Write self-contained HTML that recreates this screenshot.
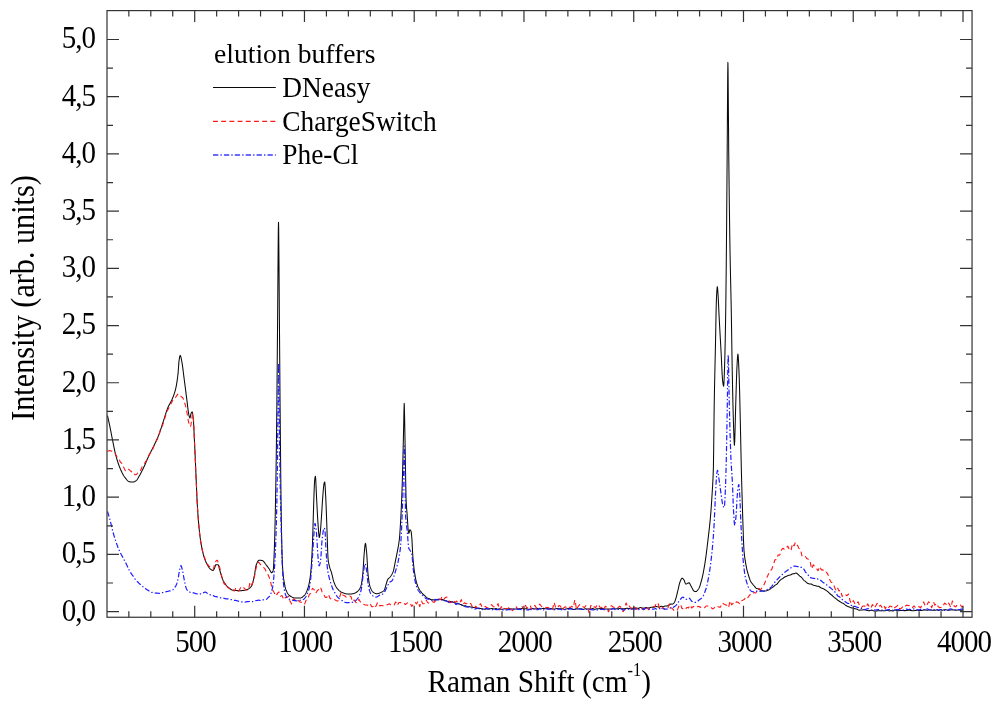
<!DOCTYPE html>
<html lang="en">
<head>
<meta charset="utf-8">
<title>Raman spectra of elution buffers</title>
<style>
html,body{margin:0;padding:0;background:#ffffff;}
body{width:1000px;height:708px;overflow:hidden;}
svg{display:block;will-change:transform;transform:translateZ(0);}
text{font-family:'Liberation Serif','Times New Roman',Times,serif;fill:#000000;}
</style>
</head>
<body>
<svg width="1000" height="708" viewBox="0 0 1000 708">
<rect x="0" y="0" width="1000" height="708" fill="#ffffff"/>
<g fill="none" stroke-linejoin="round" stroke-linecap="butt">
<path d="M107.50,415.70 L107.85,417.22 L108.20,418.76 L108.55,420.34 L108.90,421.94 L109.25,423.57 L109.60,425.22 L109.95,426.89 L110.20,428.10 L110.30,428.59 L110.65,430.35 L111.00,432.16 L111.35,434.00 L111.70,435.84 L112.05,437.64 L112.40,439.40 L112.40,439.40 L112.75,441.13 L113.10,442.89 L113.45,444.65 L113.80,446.39 L114.15,448.11 L114.50,449.78 L114.85,451.39 L115.20,452.92 L115.55,454.35 L115.80,455.30 L115.90,455.67 L116.25,456.93 L116.60,458.16 L116.95,459.34 L117.30,460.49 L117.65,461.61 L118.00,462.68 L118.35,463.72 L118.70,464.72 L119.05,465.68 L119.40,466.60 L119.75,467.49 L120.10,468.33 L120.30,468.80 L120.45,469.14 L120.80,469.94 L121.15,470.71 L121.50,471.47 L121.85,472.20 L122.20,472.92 L122.55,473.60 L122.90,474.26 L123.25,474.89 L123.60,475.49 L123.95,476.05 L124.30,476.58 L124.65,477.07 L124.90,477.40 L125.00,477.53 L125.35,477.97 L125.70,478.42 L126.05,478.86 L126.40,479.29 L126.75,479.70 L127.10,480.09 L127.45,480.46 L127.80,480.78 L128.15,481.07 L128.50,481.32 L128.85,481.51 L129.20,481.65 L129.40,481.70 L129.55,481.73 L129.90,481.80 L130.25,481.86 L130.60,481.92 L130.95,481.97 L131.30,482.01 L131.65,482.05 L132.00,482.07 L132.35,482.09 L132.70,482.10 L132.80,482.10 L133.05,482.09 L133.40,482.04 L133.75,481.95 L134.10,481.82 L134.45,481.67 L134.80,481.49 L135.15,481.28 L135.50,481.07 L135.85,480.84 L136.20,480.60 L136.20,480.60 L136.55,480.31 L136.90,479.92 L137.25,479.46 L137.60,478.93 L137.95,478.35 L138.30,477.74 L138.65,477.11 L139.00,476.48 L139.35,475.86 L139.50,475.60 L139.70,475.26 L140.05,474.64 L140.40,474.01 L140.75,473.36 L141.10,472.70 L141.45,472.02 L141.80,471.33 L142.15,470.63 L142.50,469.92 L142.85,469.21 L143.20,468.48 L143.55,467.75 L143.90,467.02 L144.10,466.60 L144.25,466.28 L144.60,465.53 L144.95,464.75 L145.30,463.96 L145.65,463.15 L146.00,462.34 L146.35,461.52 L146.70,460.70 L147.05,459.89 L147.40,459.08 L147.75,458.28 L148.10,457.49 L148.45,456.72 L148.60,456.40 L148.80,455.97 L149.15,455.24 L149.50,454.52 L149.85,453.81 L150.20,453.10 L150.55,452.41 L150.90,451.72 L151.25,451.03 L151.60,450.34 L151.95,449.65 L152.30,448.96 L152.65,448.27 L153.00,447.57 L153.35,446.86 L153.70,446.14 L154.05,445.42 L154.20,445.10 L154.40,444.68 L154.75,443.94 L155.10,443.21 L155.45,442.48 L155.80,441.74 L156.15,441.00 L156.50,440.25 L156.85,439.49 L157.20,438.71 L157.55,437.92 L157.90,437.10 L158.25,436.27 L158.60,435.41 L158.80,434.90 L158.95,434.51 L159.30,433.58 L159.65,432.60 L160.00,431.59 L160.35,430.55 L160.70,429.49 L161.05,428.41 L161.40,427.31 L161.75,426.21 L162.10,425.11 L162.45,424.01 L162.80,422.93 L163.15,421.85 L163.30,421.40 L163.50,420.79 L163.85,419.71 L164.20,418.60 L164.55,417.48 L164.90,416.35 L165.25,415.22 L165.60,414.10 L165.95,413.00 L166.30,411.93 L166.65,410.89 L167.00,409.89 L167.35,408.94 L167.70,408.04 L167.80,407.80 L168.05,407.21 L168.40,406.45 L168.75,405.73 L169.10,405.05 L169.45,404.39 L169.80,403.76 L170.15,403.13 L170.50,402.50 L170.85,401.85 L171.20,401.18 L171.55,400.48 L171.90,399.73 L172.25,398.92 L172.30,398.80 L172.60,398.07 L172.95,397.21 L173.30,396.33 L173.65,395.41 L174.00,394.45 L174.35,393.42 L174.70,392.31 L175.05,391.11 L175.40,389.81 L175.70,388.60 L175.75,388.39 L176.10,386.78 L176.45,384.95 L176.80,382.88 L177.15,380.57 L177.50,378.01 L177.85,375.19 L178.00,373.90 L178.20,371.74 L178.55,366.80 L178.90,362.10 L179.10,360.30 L179.25,359.32 L179.60,357.21 L179.95,355.76 L180.20,355.40 L180.30,355.44 L180.65,356.13 L181.00,357.46 L181.35,359.18 L181.70,361.00 L181.80,361.50 L182.05,362.85 L182.40,365.09 L182.75,367.64 L183.10,370.39 L183.45,373.24 L183.80,376.07 L184.10,378.40 L184.15,378.78 L184.50,381.45 L184.85,384.17 L185.20,386.91 L185.55,389.66 L185.90,392.42 L186.25,395.17 L186.60,397.91 L186.95,400.62 L187.00,401.00 L187.30,403.43 L187.65,406.44 L188.00,409.39 L188.35,412.05 L188.70,414.14 L188.80,414.60 L189.05,415.68 L189.40,417.06 L189.75,417.90 L189.90,418.00 L190.10,417.71 L190.45,416.26 L190.80,414.46 L191.10,413.40 L191.15,413.30 L191.50,412.63 L191.85,412.11 L192.20,411.90 L192.20,411.90 L192.55,412.88 L192.90,415.21 L193.10,416.80 L193.25,418.27 L193.60,423.44 L193.95,430.21 L194.30,437.60 L194.50,441.70 L194.65,444.76 L195.00,452.40 L195.35,460.49 L195.70,468.70 L196.00,475.60 L196.05,476.74 L196.40,485.05 L196.75,493.35 L197.10,500.77 L197.20,502.60 L197.45,506.86 L197.80,512.38 L198.15,517.38 L198.50,521.83 L198.80,525.20 L198.85,525.72 L199.20,529.25 L199.55,532.52 L199.90,535.53 L200.25,538.28 L200.60,540.77 L200.95,543.00 L201.00,543.30 L201.30,545.03 L201.65,546.94 L202.00,548.73 L202.35,550.40 L202.70,551.97 L203.05,553.42 L203.40,554.76 L203.75,555.99 L204.00,556.80 L204.10,557.11 L204.45,558.16 L204.80,559.16 L205.15,560.09 L205.50,560.97 L205.85,561.80 L206.20,562.57 L206.55,563.30 L206.90,563.98 L207.25,564.61 L207.30,564.70 L207.60,565.22 L207.95,565.81 L208.30,566.38 L208.65,566.93 L209.00,567.44 L209.35,567.92 L209.70,568.36 L210.05,568.74 L210.40,569.07 L210.70,569.30 L210.75,569.33 L211.10,569.58 L211.45,569.81 L211.80,570.02 L212.15,570.20 L212.50,570.32 L212.85,570.39 L213.00,570.40 L213.20,570.34 L213.55,570.00 L213.90,569.45 L214.25,568.78 L214.60,568.10 L214.60,568.10 L214.95,567.14 L215.30,565.92 L215.65,564.96 L215.90,564.70 L216.00,564.70 L216.35,564.70 L216.70,564.70 L217.05,564.70 L217.40,564.70 L217.75,564.70 L218.00,564.70 L218.10,564.73 L218.45,565.33 L218.80,566.47 L219.15,567.89 L219.50,569.33 L219.80,570.40 L219.85,570.56 L220.20,571.67 L220.55,572.83 L220.90,574.00 L221.25,575.17 L221.60,576.31 L221.95,577.40 L222.30,578.43 L222.65,579.37 L223.00,580.19 L223.20,580.60 L223.35,580.89 L223.70,581.54 L224.05,582.16 L224.40,582.76 L224.75,583.32 L225.10,583.85 L225.45,584.36 L225.80,584.83 L226.15,585.28 L226.50,585.70 L226.85,586.08 L227.20,586.44 L227.55,586.77 L227.70,586.90 L227.90,587.07 L228.25,587.37 L228.60,587.67 L228.95,587.96 L229.30,588.24 L229.65,588.51 L230.00,588.77 L230.35,589.02 L230.70,589.26 L231.05,589.47 L231.40,589.67 L231.75,589.84 L232.10,589.99 L232.45,590.12 L232.80,590.21 L233.15,590.28 L233.30,590.30 L233.50,590.32 L233.85,590.36 L234.20,590.39 L234.55,590.43 L234.90,590.46 L235.25,590.49 L235.60,590.52 L235.95,590.54 L236.30,590.57 L236.65,590.59 L237.00,590.61 L237.35,590.63 L237.70,590.65 L238.05,590.66 L238.40,590.67 L238.75,590.68 L239.10,590.69 L239.45,590.70 L239.80,590.70 L240.10,590.70 L240.15,590.70 L240.50,590.70 L240.85,590.68 L241.20,590.66 L241.55,590.64 L241.90,590.61 L242.25,590.57 L242.60,590.53 L242.95,590.48 L243.30,590.42 L243.65,590.36 L244.00,590.30 L244.35,590.23 L244.70,590.15 L245.05,590.07 L245.40,589.99 L245.75,589.91 L246.10,589.82 L246.45,589.72 L246.80,589.63 L246.90,589.60 L247.15,589.52 L247.50,589.40 L247.85,589.25 L248.20,589.08 L248.55,588.88 L248.90,588.65 L249.25,588.40 L249.60,588.12 L249.95,587.81 L250.30,587.47 L250.65,587.10 L251.00,586.70 L251.35,586.26 L251.40,586.20 L251.70,585.71 L252.05,584.90 L252.40,583.88 L252.75,582.69 L253.10,581.37 L253.45,579.95 L253.80,578.47 L254.10,577.20 L254.15,576.98 L254.50,575.12 L254.85,572.87 L255.20,570.47 L255.55,568.17 L255.90,566.21 L256.25,564.83 L256.30,564.70 L256.60,563.96 L256.95,563.14 L257.30,562.39 L257.65,561.72 L258.00,561.15 L258.35,560.69 L258.70,560.38 L259.05,560.22 L259.20,560.20 L259.40,560.20 L259.75,560.22 L260.10,560.24 L260.45,560.28 L260.80,560.32 L261.15,560.38 L261.50,560.45 L261.85,560.52 L262.20,560.60 L262.55,560.69 L262.60,560.70 L262.90,560.82 L263.25,561.07 L263.60,561.40 L263.95,561.81 L264.30,562.28 L264.65,562.78 L265.00,563.29 L265.35,563.81 L265.70,564.30 L266.00,564.70 L266.05,564.76 L266.40,565.21 L266.75,565.66 L267.10,566.12 L267.45,566.58 L267.80,567.05 L268.15,567.53 L268.50,568.02 L268.85,568.51 L269.20,569.01 L269.40,569.30 L269.55,569.53 L269.90,570.18 L270.25,570.89 L270.60,571.59 L270.95,572.18 L271.30,572.58 L271.60,572.70 L271.65,572.70 L272.00,572.55 L272.35,572.18 L272.70,571.59 L273.05,570.80 L273.20,570.40 L273.40,569.06 L273.75,563.61 L274.10,555.56 L274.40,547.80 L274.45,546.46 L274.80,534.70 L275.15,519.69 L275.50,502.60 L275.50,502.60 L275.85,483.28 L276.20,460.55 L276.55,434.10 L276.60,430.00 L276.90,400.95 L277.25,360.55 L277.60,320.00 L277.60,320.00 L277.95,272.88 L278.30,230.85 L278.50,222.30 L278.65,227.14 L279.00,265.06 L279.35,314.00 L279.40,320.00 L279.70,357.06 L280.05,401.73 L280.30,430.00 L280.40,440.21 L280.75,475.14 L281.10,505.66 L281.40,525.20 L281.45,527.77 L281.80,544.33 L282.15,557.47 L282.50,565.90 L282.50,565.90 L282.85,570.94 L283.20,574.89 L283.55,577.99 L283.90,580.47 L284.10,581.70 L284.25,582.57 L284.60,584.45 L284.95,586.13 L285.30,587.61 L285.65,588.89 L286.00,589.95 L286.30,590.70 L286.35,590.81 L286.70,591.56 L287.05,592.26 L287.40,592.90 L287.75,593.48 L288.10,594.01 L288.45,594.49 L288.80,594.90 L289.15,595.26 L289.50,595.56 L289.70,595.70 L289.85,595.80 L290.20,596.03 L290.55,596.25 L290.90,596.46 L291.25,596.66 L291.60,596.86 L291.95,597.04 L292.30,597.21 L292.65,597.37 L293.00,597.51 L293.35,597.64 L293.70,597.74 L294.05,597.84 L294.40,597.91 L294.75,597.96 L295.10,597.99 L295.40,598.00 L295.45,598.00 L295.80,598.00 L296.15,598.00 L296.50,598.00 L296.85,598.00 L297.20,598.00 L297.55,598.00 L297.90,598.00 L298.25,598.00 L298.60,598.00 L298.95,598.00 L299.30,598.00 L299.65,598.00 L299.90,598.00 L300.00,598.00 L300.35,597.96 L300.70,597.89 L301.05,597.77 L301.40,597.62 L301.75,597.43 L302.10,597.22 L302.45,596.97 L302.80,596.71 L303.15,596.43 L303.50,596.13 L303.85,595.81 L304.20,595.49 L304.40,595.30 L304.55,595.15 L304.90,594.74 L305.25,594.25 L305.60,593.68 L305.95,593.03 L306.30,592.32 L306.65,591.53 L307.00,590.68 L307.35,589.76 L307.70,588.79 L307.80,588.50 L308.05,587.74 L308.40,586.54 L308.75,585.16 L309.10,583.59 L309.45,581.81 L309.80,579.78 L310.15,577.48 L310.50,574.90 L310.50,574.90 L310.85,571.59 L311.20,567.19 L311.55,561.85 L311.90,555.69 L312.25,548.83 L312.30,547.80 L312.60,540.15 L312.95,528.69 L313.30,516.34 L313.65,505.02 L313.70,503.60 L314.00,494.68 L314.35,485.12 L314.60,481.00 L314.70,480.06 L315.05,477.33 L315.40,476.20 L315.40,476.20 L315.75,479.67 L316.10,487.43 L316.45,495.54 L316.50,496.50 L316.80,502.21 L317.15,509.08 L317.50,515.63 L317.85,521.30 L317.90,522.00 L318.20,526.38 L318.55,531.49 L318.90,535.55 L319.25,537.47 L319.30,537.50 L319.60,536.82 L319.95,534.69 L320.30,531.77 L320.50,530.00 L320.65,528.48 L321.00,523.73 L321.35,518.43 L321.40,517.70 L321.70,513.17 L322.05,507.57 L322.40,502.07 L322.75,497.13 L322.80,496.50 L323.10,492.64 L323.45,488.30 L323.80,484.94 L324.00,483.80 L324.15,483.22 L324.50,482.20 L324.70,482.00 L324.85,482.53 L325.20,486.94 L325.55,493.62 L325.70,496.50 L325.90,500.65 L326.25,509.56 L326.60,519.31 L326.80,524.70 L326.95,528.88 L327.30,539.89 L327.65,550.46 L328.00,557.92 L328.10,559.10 L328.35,561.14 L328.70,563.27 L329.05,564.87 L329.30,565.90 L329.40,566.30 L329.75,567.56 L330.10,568.64 L330.45,569.62 L330.80,570.58 L331.15,571.58 L331.50,572.70 L331.50,572.70 L331.85,574.01 L332.20,575.46 L332.55,576.98 L332.90,578.48 L333.25,579.89 L333.60,581.11 L333.80,581.70 L333.95,582.10 L334.30,583.01 L334.65,583.86 L335.00,584.67 L335.35,585.43 L335.70,586.13 L336.05,586.78 L336.40,587.37 L336.75,587.90 L337.10,588.38 L337.20,588.50 L337.45,588.80 L337.80,589.20 L338.15,589.59 L338.50,589.95 L338.85,590.30 L339.20,590.63 L339.55,590.93 L339.90,591.21 L340.25,591.48 L340.60,591.71 L340.95,591.93 L341.30,592.12 L341.65,592.28 L341.70,592.30 L342.00,592.42 L342.35,592.57 L342.70,592.71 L343.05,592.85 L343.40,592.98 L343.75,593.11 L344.10,593.23 L344.45,593.35 L344.80,593.46 L345.15,593.57 L345.50,593.67 L345.85,593.76 L346.20,593.84 L346.55,593.91 L346.90,593.97 L347.25,594.02 L347.60,594.06 L347.95,594.08 L348.30,594.10 L348.50,594.10 L348.65,594.10 L349.00,594.09 L349.35,594.08 L349.70,594.07 L350.05,594.04 L350.40,594.02 L350.75,593.99 L351.10,593.95 L351.45,593.91 L351.80,593.87 L352.15,593.82 L352.50,593.77 L352.85,593.72 L353.00,593.70 L353.20,593.67 L353.55,593.59 L353.90,593.49 L354.25,593.36 L354.60,593.22 L354.95,593.06 L355.30,592.88 L355.65,592.68 L356.00,592.47 L356.35,592.24 L356.70,592.00 L357.05,591.74 L357.40,591.48 L357.50,591.40 L357.75,591.20 L358.10,590.88 L358.45,590.52 L358.80,590.12 L359.15,589.65 L359.50,589.12 L359.85,588.52 L360.20,587.84 L360.55,587.07 L360.90,586.20 L360.90,586.20 L361.25,584.97 L361.60,583.17 L361.95,580.91 L362.30,578.26 L362.65,575.34 L362.70,574.90 L363.00,571.55 L363.35,566.33 L363.70,560.61 L364.05,555.31 L364.30,552.30 L364.40,551.25 L364.75,547.41 L365.10,544.34 L365.40,543.30 L365.45,543.33 L365.80,544.75 L366.15,547.71 L366.50,551.29 L366.60,552.30 L366.85,555.38 L367.20,561.10 L367.55,567.30 L367.90,572.68 L368.10,574.90 L368.25,576.22 L368.60,579.08 L368.95,581.58 L369.30,583.68 L369.65,585.33 L369.90,586.20 L370.00,586.49 L370.35,587.46 L370.70,588.34 L371.05,589.14 L371.40,589.85 L371.75,590.48 L372.10,591.03 L372.45,591.50 L372.80,591.88 L373.15,592.19 L373.30,592.30 L373.50,592.43 L373.85,592.66 L374.20,592.87 L374.55,593.06 L374.90,593.24 L375.25,593.39 L375.60,593.52 L375.95,593.61 L376.30,593.67 L376.65,593.70 L376.70,593.70 L377.00,593.69 L377.35,593.66 L377.70,593.60 L378.05,593.52 L378.40,593.43 L378.75,593.32 L379.10,593.19 L379.45,593.06 L379.80,592.92 L380.15,592.77 L380.50,592.61 L380.85,592.46 L381.20,592.30 L381.20,592.30 L381.55,592.14 L381.90,591.98 L382.25,591.79 L382.60,591.59 L382.95,591.35 L383.30,591.08 L383.65,590.77 L384.00,590.41 L384.10,590.30 L384.35,589.92 L384.70,589.12 L385.05,588.09 L385.40,586.91 L385.75,585.67 L386.10,584.45 L386.40,583.50 L386.45,583.35 L386.80,582.19 L387.15,580.99 L387.50,579.93 L387.80,579.30 L387.85,579.22 L388.20,578.76 L388.55,578.40 L388.90,578.10 L389.25,577.83 L389.60,577.53 L389.95,577.18 L390.10,577.00 L390.30,576.75 L390.65,576.28 L391.00,575.80 L391.35,575.27 L391.70,574.70 L392.05,574.07 L392.40,573.38 L392.75,572.61 L393.10,571.76 L393.20,571.50 L393.45,570.73 L393.80,569.35 L394.15,567.70 L394.50,565.88 L394.85,563.98 L395.20,562.11 L395.50,560.60 L395.55,560.36 L395.90,558.70 L396.25,557.05 L396.60,555.38 L396.95,553.66 L397.30,551.84 L397.40,551.30 L397.65,549.97 L398.00,548.14 L398.35,546.26 L398.70,544.18 L399.05,541.77 L399.40,538.90 L399.40,538.90 L399.75,534.96 L400.10,529.83 L400.45,524.13 L400.50,523.30 L400.80,518.00 L401.15,511.02 L401.30,507.80 L401.50,503.32 L401.85,494.81 L402.20,485.00 L402.20,485.00 L402.55,472.89 L402.90,459.02 L403.00,455.00 L403.25,444.59 L403.60,429.33 L403.70,425.00 L403.95,411.51 L404.20,403.40 L404.30,404.55 L404.65,420.07 L404.80,428.00 L405.00,439.05 L405.35,461.23 L405.50,470.00 L405.70,481.58 L406.05,498.64 L406.10,500.00 L406.40,505.68 L406.75,510.16 L407.10,514.17 L407.20,515.50 L407.45,519.38 L407.80,525.17 L408.15,529.80 L408.30,531.00 L408.50,532.15 L408.85,533.38 L408.90,533.40 L409.20,532.47 L409.55,530.48 L409.80,529.80 L409.90,529.81 L410.25,530.00 L410.60,530.41 L410.95,531.00 L411.00,531.10 L411.30,532.58 L411.65,535.96 L411.90,538.90 L412.00,540.34 L412.35,547.59 L412.70,554.40 L412.70,554.40 L413.05,558.97 L413.40,562.94 L413.75,566.35 L414.10,569.26 L414.20,570.00 L414.45,571.77 L414.80,574.07 L415.15,576.17 L415.50,578.07 L415.85,579.77 L416.20,581.27 L416.50,582.40 L416.55,582.57 L416.90,583.73 L417.25,584.79 L417.60,585.75 L417.95,586.63 L418.30,587.42 L418.65,588.13 L418.90,588.60 L419.00,588.78 L419.35,589.38 L419.70,589.95 L420.05,590.49 L420.40,591.00 L420.75,591.48 L421.10,591.94 L421.45,592.38 L421.80,592.80 L422.15,593.20 L422.50,593.58 L422.85,593.95 L423.20,594.30 L423.50,594.60 L423.55,594.65 L423.90,594.99 L424.25,595.33 L424.60,595.66 L424.95,595.99 L425.30,596.31 L425.65,596.62 L426.00,596.91 L426.35,597.19 L426.70,597.45 L427.05,597.69 L427.40,597.91 L427.75,598.11 L428.10,598.28 L428.40,598.40 L428.45,598.42 L428.80,598.55 L429.15,598.68 L429.50,598.80 L429.85,598.92 L430.20,599.38 L430.55,599.49 L430.90,599.59 L431.25,599.69 L431.60,599.74 L431.95,599.77 L432.30,599.79 L432.65,599.80 L433.00,599.80 L433.35,599.84 L433.70,599.96 L434.05,600.06 L434.20,600.09 L434.40,600.14 L434.75,600.22 L435.10,600.28 L435.45,600.14 L435.80,600.00 L436.15,599.84 L436.50,599.69 L436.85,599.53 L437.20,599.44 L437.55,599.41 L437.90,599.37 L438.25,599.34 L438.60,599.31 L438.95,599.30 L439.30,599.33 L439.65,599.38 L439.90,599.41 L440.00,599.43 L440.35,599.49 L440.70,599.57 L441.05,599.56 L441.40,599.52 L441.75,599.49 L442.10,599.46 L442.45,599.45 L442.80,599.51 L443.15,599.74 L443.50,599.98 L443.85,600.23 L444.20,600.47 L444.55,600.73 L444.90,600.78 L445.25,600.81 L445.60,600.84 L445.95,600.87 L446.30,600.89 L446.65,600.97 L447.00,601.13 L447.35,601.29 L447.70,601.44 L447.80,601.48 L448.05,601.58 L448.40,601.73 L448.75,601.68 L449.10,601.64 L449.45,601.59 L449.80,601.54 L450.15,601.50 L450.50,601.51 L450.85,601.58 L451.20,601.64 L451.55,601.71 L451.90,601.78 L452.25,601.85 L452.60,601.98 L452.95,602.10 L453.30,602.22 L453.65,602.35 L454.00,602.47 L454.35,602.60 L454.70,602.73 L455.05,602.86 L455.40,602.99 L455.75,603.12 L456.10,603.22 L456.45,603.24 L456.80,603.26 L456.80,603.26 L457.15,603.28 L457.50,603.31 L457.85,603.34 L458.20,603.49 L458.55,603.66 L458.90,603.83 L459.25,604.00 L459.60,604.18 L459.95,604.32 L460.30,604.42 L460.65,604.52 L461.00,604.61 L461.35,604.71 L461.70,604.81 L462.05,605.02 L462.40,605.24 L462.75,605.45 L463.10,605.66 L463.45,605.87 L463.80,605.95 L464.15,605.92 L464.50,605.89 L464.85,605.86 L465.20,605.82 L465.55,605.81 L465.90,606.00 L465.90,606.00 L466.25,606.19 L466.60,606.38 L466.95,606.56 L467.30,606.75 L467.65,606.79 L468.00,606.77 L468.35,606.75 L468.70,606.74 L469.05,606.72 L469.40,606.72 L469.75,606.78 L470.10,606.83 L470.45,606.89 L470.80,606.94 L471.15,606.99 L471.50,607.07 L471.85,607.15 L472.20,607.23 L472.55,607.31 L472.90,607.38 L473.25,607.43 L473.60,607.46 L473.95,607.48 L474.30,607.50 L474.65,607.52 L474.90,607.53 L475.00,607.53 L475.35,607.65 L475.70,607.77 L476.05,607.89 L476.40,608.00 L476.75,608.12 L477.10,608.22 L477.45,608.31 L477.80,608.40 L478.15,608.49 L478.50,608.58 L478.85,608.65 L479.20,608.63 L479.55,608.62 L479.90,608.60 L480.25,608.58 L480.60,608.56 L480.95,608.59 L481.30,608.65 L481.65,608.70 L482.00,608.75 L482.35,608.80 L482.70,608.86 L483.05,608.94 L483.40,609.02 L483.75,609.10 L484.10,609.18 L484.45,609.26 L484.80,609.21 L485.15,609.14 L485.50,609.07 L485.85,609.00 L486.20,608.93 L486.20,608.93 L486.55,608.89 L486.90,608.89 L487.25,608.90 L487.60,608.90 L487.95,608.90 L488.30,608.90 L488.65,608.88 L489.00,608.86 L489.35,608.84 L489.70,608.82 L490.05,608.80 L490.40,608.75 L490.75,608.67 L491.10,608.60 L491.45,608.53 L491.80,608.45 L492.15,608.41 L492.50,608.56 L492.85,608.70 L493.20,608.84 L493.55,608.99 L493.90,609.13 L494.25,609.07 L494.60,608.93 L494.95,608.78 L495.30,608.64 L495.65,608.49 L496.00,608.43 L496.35,608.58 L496.70,608.72 L497.05,608.87 L497.40,609.02 L497.75,609.16 L498.10,609.15 L498.45,609.11 L498.80,609.08 L499.15,609.04 L499.50,609.00 L499.85,609.01 L500.20,609.08 L500.55,609.15 L500.90,609.22 L501.25,609.29 L501.60,609.36 L501.95,609.29 L502.30,609.22 L502.65,609.15 L503.00,609.08 L503.35,609.01 L503.70,608.95 L504.05,608.91 L504.30,608.88 L504.40,608.86 L504.75,608.82 L505.10,608.77 L505.45,608.75 L505.80,608.82 L506.15,608.89 L506.50,608.95 L506.85,609.02 L507.20,609.09 L507.55,609.07 L507.90,609.02 L508.25,608.97 L508.60,608.91 L508.95,608.86 L509.30,608.82 L509.65,608.84 L510.00,608.87 L510.35,608.89 L510.70,608.91 L511.05,608.93 L511.40,608.95 L511.75,608.96 L512.10,608.97 L512.45,608.98 L512.80,608.99 L513.15,609.00 L513.50,608.99 L513.85,608.97 L514.20,608.96 L514.55,608.95 L514.90,608.94 L515.25,608.94 L515.60,608.93 L515.95,608.93 L516.30,608.92 L516.65,608.92 L517.00,608.90 L517.35,608.86 L517.70,608.82 L518.05,608.78 L518.40,608.74 L518.75,608.71 L519.10,608.75 L519.45,608.78 L519.80,608.82 L520.15,608.86 L520.50,608.89 L520.85,608.82 L521.20,608.71 L521.55,608.59 L521.90,608.47 L522.25,608.36 L522.60,608.31 L522.95,608.42 L523.30,608.54 L523.65,608.65 L524.00,608.77 L524.35,608.88 L524.70,608.85 L525.05,608.78 L525.40,608.72 L525.75,608.66 L526.10,608.60 L526.45,608.62 L526.80,608.75 L527.15,608.89 L527.50,609.02 L527.85,609.16 L528.20,609.30 L528.55,609.30 L528.90,609.31 L529.25,609.32 L529.60,609.33 L529.95,609.33 L530.30,609.23 L530.65,609.04 L531.00,608.84 L531.35,608.65 L531.70,608.46 L532.05,608.32 L532.40,608.44 L532.75,608.56 L533.10,608.68 L533.45,608.81 L533.80,608.93 L534.15,608.95 L534.50,608.93 L534.85,608.92 L535.20,608.90 L535.55,608.88 L535.90,608.85 L536.25,608.80 L536.60,608.74 L536.95,608.69 L537.30,608.63 L537.65,608.58 L538.00,608.65 L538.35,608.74 L538.70,608.83 L539.05,608.93 L539.40,609.02 L539.75,609.05 L540.00,609.00 L540.10,608.99 L540.45,608.93 L540.80,608.87 L541.15,608.81 L541.50,608.75 L541.85,608.67 L542.20,608.59 L542.55,608.52 L542.90,608.44 L543.25,608.36 L543.60,608.38 L543.95,608.47 L544.30,608.55 L544.65,608.64 L545.00,608.73 L545.35,608.81 L545.70,608.81 L546.05,608.82 L546.40,608.82 L546.75,608.83 L547.10,608.84 L547.45,608.85 L547.80,608.86 L548.15,608.88 L548.50,608.89 L548.85,608.91 L549.20,608.90 L549.55,608.82 L549.90,608.74 L550.25,608.66 L550.60,608.58 L550.95,608.50 L551.30,608.58 L551.65,608.69 L552.00,608.80 L552.35,608.90 L552.70,609.01 L553.05,609.08 L553.40,609.08 L553.75,609.09 L554.10,609.10 L554.45,609.10 L554.80,609.11 L555.15,609.00 L555.50,608.89 L555.85,608.78 L556.20,608.67 L556.55,608.55 L556.90,608.52 L557.25,608.55 L557.60,608.58 L557.95,608.61 L558.30,608.64 L558.65,608.67 L559.00,608.70 L559.35,608.73 L559.70,608.77 L560.05,608.80 L560.40,608.83 L560.75,608.82 L561.10,608.79 L561.45,608.76 L561.80,608.74 L562.15,608.71 L562.50,608.72 L562.85,608.86 L563.20,609.00 L563.55,609.13 L563.90,609.27 L564.25,609.40 L564.60,609.34 L564.95,609.25 L565.30,609.16 L565.65,609.07 L566.00,608.98 L566.35,608.90 L566.70,608.83 L567.05,608.75 L567.40,608.68 L567.75,608.61 L568.10,608.54 L568.45,608.55 L568.80,608.56 L569.15,608.58 L569.50,608.59 L569.85,608.60 L570.20,608.63 L570.55,608.67 L570.90,608.72 L571.25,608.76 L571.60,608.80 L571.95,608.86 L572.30,609.00 L572.65,609.13 L573.00,609.27 L573.35,609.41 L573.70,609.55 L574.05,609.48 L574.40,609.34 L574.75,609.19 L575.10,609.05 L575.45,608.90 L575.80,608.80 L576.15,608.82 L576.50,608.83 L576.85,608.85 L577.20,608.87 L577.55,608.89 L577.90,608.91 L578.25,608.93 L578.60,608.95 L578.95,608.98 L579.30,609.00 L579.65,609.00 L580.00,608.96 L580.35,608.93 L580.70,608.90 L581.05,608.86 L581.40,608.83 L581.75,608.97 L582.10,609.10 L582.45,609.24 L582.80,609.38 L583.15,609.51 L583.50,609.47 L583.85,609.31 L584.20,609.14 L584.55,608.98 L584.90,608.81 L585.25,608.68 L585.60,608.75 L585.95,608.83 L586.30,608.90 L586.65,608.98 L587.00,609.05 L587.35,609.05 L587.70,609.01 L588.05,608.98 L588.40,608.94 L588.75,608.91 L589.10,608.89 L589.45,608.91 L589.80,608.94 L590.15,608.97 L590.50,608.99 L590.85,609.02 L591.20,608.93 L591.55,608.83 L591.90,608.72 L592.25,608.61 L592.60,608.51 L592.95,608.52 L593.30,608.69 L593.65,608.86 L594.00,609.04 L594.35,609.21 L594.70,609.38 L595.05,609.27 L595.40,609.16 L595.75,609.04 L596.10,608.93 L596.45,608.82 L596.80,608.78 L597.15,608.78 L597.50,608.79 L597.85,608.80 L598.20,608.81 L598.55,608.81 L598.90,608.75 L599.25,608.69 L599.60,608.63 L599.95,608.57 L600.00,608.57 L600.30,608.52 L600.65,608.51 L601.00,608.52 L601.35,608.53 L601.70,608.54 L602.05,608.55 L602.40,608.58 L602.75,608.65 L603.10,608.73 L603.45,608.80 L603.80,608.87 L604.15,608.95 L604.50,608.98 L604.85,609.00 L605.20,609.02 L605.55,609.04 L605.90,609.06 L606.25,609.07 L606.60,609.05 L606.95,609.04 L607.30,609.02 L607.65,609.00 L608.00,608.98 L608.35,609.01 L608.70,609.03 L609.05,609.05 L609.40,609.07 L609.75,609.10 L610.10,609.09 L610.45,609.05 L610.80,609.02 L611.15,608.99 L611.50,608.95 L611.85,608.92 L612.20,608.87 L612.55,608.83 L612.90,608.78 L613.25,608.73 L613.60,608.69 L613.95,608.70 L614.30,608.75 L614.65,608.79 L615.00,608.83 L615.35,608.87 L615.70,608.90 L616.05,608.88 L616.40,608.85 L616.75,608.83 L617.10,608.81 L617.45,608.79 L617.80,608.75 L618.15,608.70 L618.50,608.65 L618.85,608.61 L619.20,608.56 L619.55,608.55 L619.90,608.59 L620.25,608.63 L620.60,608.67 L620.95,608.71 L621.30,608.75 L621.65,608.78 L622.00,608.80 L622.35,608.83 L622.70,608.85 L623.05,608.88 L623.40,608.85 L623.75,608.78 L624.10,608.71 L624.45,608.64 L624.80,608.57 L625.15,608.50 L625.50,608.46 L625.85,608.42 L626.20,608.37 L626.55,608.33 L626.90,608.28 L627.25,608.31 L627.60,608.36 L627.95,608.42 L628.30,608.47 L628.65,608.53 L629.00,608.58 L629.35,608.64 L629.70,608.70 L630.05,608.76 L630.40,608.82 L630.75,608.88 L631.10,608.78 L631.45,608.64 L631.80,608.51 L632.15,608.37 L632.50,608.24 L632.85,608.16 L633.20,608.16 L633.55,608.15 L633.90,608.15 L634.25,608.15 L634.60,608.14 L634.95,608.13 L635.30,608.12 L635.65,608.10 L636.00,608.09 L636.35,608.08 L636.70,608.11 L637.05,608.18 L637.40,608.25 L637.75,608.32 L638.10,608.38 L638.45,608.42 L638.80,608.22 L639.15,608.03 L639.50,607.84 L639.85,607.65 L640.00,607.57 L640.20,607.46 L640.55,607.49 L640.90,607.60 L641.25,607.72 L641.60,607.84 L641.95,607.95 L642.30,608.04 L642.65,608.08 L643.00,608.11 L643.35,608.14 L643.70,608.18 L644.05,608.21 L644.40,608.09 L644.75,607.96 L645.10,607.82 L645.45,607.68 L645.80,607.55 L646.15,607.52 L646.50,607.63 L646.85,607.75 L647.20,607.86 L647.55,607.98 L647.90,608.09 L648.25,608.01 L648.60,607.93 L648.95,607.85 L649.30,607.77 L649.65,607.69 L650.00,607.61 L650.35,607.52 L650.70,607.43 L651.05,607.34 L651.40,607.25 L651.75,607.17 L652.10,607.19 L652.45,607.21 L652.80,607.22 L653.15,607.24 L653.50,607.25 L653.85,607.16 L654.20,607.03 L654.55,606.90 L654.90,606.77 L655.25,606.63 L655.60,606.55 L655.95,606.57 L656.30,606.60 L656.65,606.62 L657.00,606.65 L657.35,606.67 L657.70,606.77 L658.05,606.87 L658.40,606.98 L658.75,607.09 L659.10,607.19 L659.45,607.17 L659.80,606.98 L660.00,606.86 L660.15,606.78 L660.50,606.58 L660.85,606.39 L661.20,606.19 L661.55,606.31 L661.90,606.44 L662.25,606.56 L662.60,606.68 L662.95,606.80 L663.30,606.76 L663.65,606.60 L664.00,606.44 L664.35,606.28 L664.70,606.12 L665.05,605.98 L665.40,605.99 L665.75,605.99 L666.10,606.00 L666.45,606.00 L666.80,606.00 L667.15,605.92 L667.50,605.79 L667.85,605.67 L668.20,605.54 L668.55,605.40 L668.90,605.25 L669.25,605.03 L669.60,604.81 L669.95,604.58 L670.00,604.55 L670.30,604.36 L670.65,604.12 L671.00,604.08 L671.35,604.05 L671.70,604.01 L672.05,604.30 L672.40,604.12 L672.75,603.93 L673.10,603.70 L673.45,603.45 L673.80,603.17 L674.00,603.00 L674.15,602.84 L674.50,602.25 L674.85,601.44 L675.20,600.47 L675.55,599.41 L675.90,598.31 L676.00,598.00 L676.25,597.18 L676.60,595.87 L676.95,594.44 L677.30,592.95 L677.65,591.45 L678.00,590.00 L678.00,590.00 L678.35,588.52 L678.70,586.95 L679.05,585.39 L679.40,583.94 L679.75,582.70 L680.00,582.00 L680.10,581.76 L680.45,580.90 L680.80,580.07 L681.15,579.33 L681.50,578.74 L681.85,578.34 L682.20,578.20 L682.20,578.20 L682.55,578.30 L682.90,578.58 L683.25,578.97 L683.60,579.44 L683.95,579.93 L684.00,580.00 L684.30,580.58 L684.65,581.55 L685.00,582.60 L685.35,583.49 L685.70,583.97 L685.80,584.00 L686.05,583.98 L686.40,583.89 L686.75,583.75 L687.10,583.57 L687.45,583.37 L687.80,583.18 L688.15,583.01 L688.50,582.88 L688.85,582.81 L689.00,582.80 L689.20,582.86 L689.55,583.21 L689.90,583.80 L690.25,584.51 L690.60,585.25 L690.95,585.92 L691.00,586.00 L691.30,586.52 L691.65,587.19 L692.00,587.89 L692.35,588.60 L692.70,589.28 L693.05,589.89 L693.40,590.42 L693.75,590.81 L694.00,591.00 L694.10,591.06 L694.45,591.25 L694.80,591.42 L695.15,591.54 L695.50,591.60 L695.60,591.60 L695.85,591.57 L696.20,591.45 L696.55,591.23 L696.90,590.94 L697.25,590.58 L697.60,590.18 L697.95,589.74 L698.30,589.27 L698.50,589.00 L698.65,588.78 L699.00,588.15 L699.35,587.37 L699.70,586.46 L700.05,585.44 L700.40,584.33 L700.75,583.15 L701.10,581.93 L701.45,580.68 L701.50,580.50 L701.80,579.38 L702.15,577.96 L702.50,576.42 L702.85,574.79 L703.20,573.05 L703.55,571.23 L703.90,569.33 L704.25,567.35 L704.60,565.30 L704.90,563.50 L704.95,563.19 L705.30,560.95 L705.65,558.55 L706.00,556.00 L706.35,553.33 L706.70,550.55 L707.05,547.70 L707.40,544.78 L707.75,541.83 L708.10,538.85 L708.20,538.00 L708.45,535.88 L708.80,532.90 L709.15,529.86 L709.50,526.71 L709.85,523.37 L710.20,519.80 L710.50,516.50 L710.55,515.93 L710.90,511.66 L711.25,506.98 L711.60,501.88 L711.95,496.38 L712.10,493.90 L712.30,490.70 L712.65,485.19 L713.00,478.50 L713.35,469.14 L713.40,467.50 L713.70,448.14 L714.05,416.33 L714.20,405.40 L714.40,394.04 L714.75,376.81 L715.10,361.29 L715.45,345.57 L715.50,343.20 L715.80,327.12 L716.15,308.69 L716.40,300.00 L716.50,297.76 L716.85,290.81 L717.20,286.93 L717.30,286.70 L717.55,287.88 L717.90,292.30 L718.20,297.00 L718.25,297.81 L718.60,305.36 L718.90,312.20 L718.95,313.20 L719.30,320.01 L719.65,326.51 L720.00,332.81 L720.35,339.01 L720.70,345.23 L721.05,351.58 L721.10,352.50 L721.40,358.57 L721.75,366.25 L722.10,373.45 L722.45,378.96 L722.60,380.50 L722.80,382.15 L723.15,384.64 L723.50,386.02 L723.60,386.10 L723.85,384.37 L724.20,377.28 L724.55,366.91 L724.80,358.80 L724.90,355.31 L725.25,339.32 L725.60,318.71 L725.70,312.20 L725.95,293.17 L726.30,260.24 L726.40,250.00 L726.65,221.30 L727.00,175.81 L727.20,150.00 L727.35,128.07 L727.70,74.66 L727.90,62.40 L728.05,68.39 L728.40,111.54 L728.70,150.00 L728.75,154.56 L729.10,185.12 L729.45,212.95 L729.80,237.57 L730.00,250.00 L730.15,258.39 L730.50,275.26 L730.85,290.55 L731.20,306.94 L731.30,312.20 L731.55,327.20 L731.90,350.46 L732.25,371.72 L732.30,374.30 L732.60,388.83 L732.95,404.29 L733.30,417.59 L733.50,424.00 L733.65,428.66 L734.00,439.29 L734.35,445.09 L734.40,445.20 L734.70,441.46 L735.05,430.31 L735.40,416.26 L735.70,405.40 L735.75,403.83 L736.10,391.94 L736.45,380.00 L736.80,370.20 L736.90,368.10 L737.15,363.23 L737.50,357.20 L737.85,354.16 L737.90,354.10 L738.20,355.94 L738.55,361.67 L738.90,369.54 L739.10,374.30 L739.25,378.30 L739.60,390.66 L739.95,405.56 L740.30,420.90 L740.30,420.90 L740.65,437.03 L741.00,454.06 L741.30,467.50 L741.35,469.54 L741.70,482.86 L741.90,490.00 L742.05,495.27 L742.40,507.14 L742.70,516.50 L742.75,517.99 L743.10,528.83 L743.45,539.19 L743.80,547.37 L744.00,550.40 L744.15,552.06 L744.50,555.50 L744.85,558.40 L745.20,560.14 L745.55,562.47 L745.90,564.54 L746.25,566.43 L746.60,568.24 L746.70,568.75 L746.95,569.80 L747.30,571.19 L747.65,572.50 L748.00,573.72 L748.35,574.86 L748.70,575.97 L749.05,577.14 L749.40,578.23 L749.75,579.23 L750.10,580.13 L750.10,580.13 L750.45,580.98 L750.80,581.58 L751.15,582.12 L751.50,582.62 L751.85,583.09 L752.20,583.53 L752.55,583.97 L752.90,584.43 L753.25,584.86 L753.60,585.26 L753.95,585.62 L754.30,585.94 L754.60,586.36 L754.65,586.43 L755.00,586.89 L755.35,587.34 L755.70,587.77 L756.05,588.20 L756.40,588.43 L756.75,588.51 L757.10,588.59 L757.45,588.65 L757.80,588.70 L758.15,588.77 L758.50,589.03 L758.85,589.27 L759.20,589.50 L759.55,589.73 L759.90,589.94 L760.20,590.11 L760.25,590.13 L760.60,590.33 L760.95,590.52 L761.30,590.72 L761.65,590.91 L762.00,591.05 L762.35,591.08 L762.70,591.09 L763.05,591.10 L763.40,591.10 L763.75,591.08 L764.10,591.10 L764.45,591.11 L764.70,591.11 L764.80,591.10 L765.15,591.07 L765.50,591.01 L765.85,590.94 L766.20,590.85 L766.55,590.75 L766.90,590.63 L767.25,590.49 L767.60,590.34 L767.95,590.21 L768.30,590.08 L768.65,589.93 L769.00,589.78 L769.35,589.63 L769.70,589.40 L770.05,589.11 L770.40,588.82 L770.40,588.82 L770.75,588.52 L771.10,588.21 L771.45,587.91 L771.80,587.74 L772.15,587.56 L772.50,587.37 L772.85,587.16 L773.20,586.95 L773.55,586.67 L773.90,586.35 L774.25,586.03 L774.60,585.71 L774.95,585.39 L775.30,585.10 L775.65,584.88 L776.00,584.67 L776.35,584.46 L776.70,584.25 L777.05,584.06 L777.20,583.90 L777.40,583.64 L777.75,583.19 L778.10,582.72 L778.45,582.25 L778.80,581.77 L779.15,581.34 L779.50,580.99 L779.85,580.63 L780.20,580.27 L780.55,579.92 L780.90,579.57 L781.25,579.35 L781.60,579.15 L781.95,578.95 L782.30,578.77 L782.65,578.59 L783.00,578.34 L783.35,578.03 L783.70,577.74 L784.00,577.51 L784.05,577.47 L784.40,577.20 L784.75,576.96 L785.10,576.81 L785.45,576.67 L785.80,576.53 L786.15,576.39 L786.50,576.26 L786.85,576.10 L787.20,575.94 L787.55,575.77 L787.90,575.62 L788.25,575.46 L788.60,575.34 L788.95,575.27 L789.30,575.21 L789.65,575.15 L790.00,575.10 L790.35,575.06 L790.70,574.88 L790.70,574.88 L791.05,574.68 L791.40,574.48 L791.75,574.27 L792.10,574.07 L792.45,573.94 L792.80,573.88 L793.15,573.84 L793.50,573.80 L793.85,573.77 L794.20,573.75 L794.55,573.56 L794.90,573.39 L795.25,573.24 L795.30,573.21 L795.60,573.10 L795.95,573.01 L796.30,573.08 L796.65,573.29 L797.00,573.52 L797.35,573.77 L797.70,574.05 L798.05,574.34 L798.40,574.69 L798.75,575.05 L799.10,575.41 L799.45,575.78 L799.80,576.15 L799.80,576.15 L800.15,576.36 L800.50,576.55 L800.85,576.79 L801.20,577.08 L801.55,577.39 L801.90,577.76 L802.25,578.24 L802.60,578.72 L802.95,579.18 L803.30,579.62 L803.65,580.03 L804.00,580.37 L804.30,580.62 L804.35,580.66 L804.70,580.92 L805.05,581.17 L805.40,581.41 L805.75,581.70 L806.10,582.05 L806.45,582.38 L806.80,582.70 L807.15,583.01 L807.50,583.29 L807.70,583.37 L807.85,583.43 L808.20,583.55 L808.55,583.67 L808.90,583.77 L809.25,583.87 L809.60,583.93 L809.95,583.96 L810.30,583.99 L810.65,584.01 L811.00,584.03 L811.35,584.08 L811.70,584.28 L812.05,584.49 L812.40,584.70 L812.75,584.91 L813.10,585.12 L813.30,585.21 L813.45,585.24 L813.80,585.32 L814.15,585.40 L814.50,585.47 L814.85,585.54 L815.20,585.62 L815.55,585.75 L815.90,585.87 L816.25,585.99 L816.60,586.11 L816.95,586.23 L817.30,586.26 L817.65,586.27 L818.00,586.29 L818.35,586.32 L818.70,586.34 L819.05,586.47 L819.40,586.73 L819.75,587.00 L820.10,587.28 L820.10,587.28 L820.45,587.56 L820.80,587.86 L821.15,587.94 L821.50,588.04 L821.85,588.14 L822.20,588.26 L822.55,588.38 L822.90,588.54 L823.25,588.72 L823.60,588.91 L823.95,589.10 L824.30,589.30 L824.65,589.51 L825.00,589.72 L825.35,589.93 L825.70,590.15 L826.05,590.37 L826.40,590.59 L826.75,590.84 L826.90,590.95 L827.10,591.10 L827.45,591.37 L827.80,591.65 L828.15,591.94 L828.50,592.25 L828.85,592.60 L829.20,592.96 L829.55,593.32 L829.90,593.68 L830.25,594.05 L830.60,594.30 L830.95,594.54 L831.30,594.78 L831.65,595.01 L832.00,595.25 L832.35,595.54 L832.70,595.92 L833.05,596.28 L833.40,596.65 L833.70,596.95 L833.75,597.00 L834.10,597.36 L834.45,597.60 L834.80,597.84 L835.15,598.08 L835.50,598.31 L835.85,598.55 L836.20,598.82 L836.55,599.13 L836.90,599.44 L837.25,599.74 L837.60,600.05 L837.95,600.34 L838.20,600.50 L838.30,600.57 L838.65,600.80 L839.00,601.04 L839.35,601.27 L839.70,601.51 L840.05,601.74 L840.40,601.96 L840.75,602.17 L841.10,602.39 L841.45,602.60 L841.80,602.79 L842.15,602.94 L842.50,603.07 L842.85,603.20 L843.20,603.33 L843.55,603.44 L843.90,603.74 L844.00,603.84 L844.25,604.07 L844.60,604.40 L844.95,604.73 L845.30,605.05 L845.65,605.32 L846.00,605.54 L846.35,605.75 L846.70,605.96 L847.05,606.16 L847.40,606.36 L847.75,606.49 L848.10,606.61 L848.45,606.73 L848.80,606.85 L849.15,606.96 L849.50,607.09 L849.85,607.25 L850.20,607.40 L850.55,607.55 L850.80,607.65 L850.90,607.69 L851.25,607.82 L851.60,607.87 L851.95,607.93 L852.30,607.98 L852.65,608.04 L853.00,608.09 L853.35,608.19 L853.70,608.31 L854.05,608.42 L854.40,608.53 L854.75,608.64 L855.10,608.74 L855.45,608.81 L855.80,608.87 L856.15,608.93 L856.50,608.99 L856.85,609.05 L857.20,609.24 L857.55,609.46 L857.90,609.67 L858.25,609.87 L858.60,610.07 L858.95,610.18 L859.30,610.16 L859.65,610.14 L860.00,610.11 L860.35,610.07 L860.70,610.03 L861.00,610.02 L861.05,610.02 L861.40,610.00 L861.75,609.98 L862.10,609.96 L862.45,609.94 L862.80,609.91 L863.15,609.88 L863.50,609.85 L863.85,609.81 L864.20,609.78 L864.55,609.76 L864.90,609.85 L865.25,609.94 L865.60,610.02 L865.95,610.10 L866.30,610.19 L866.65,610.29 L867.00,610.40 L867.35,610.50 L867.70,610.61 L868.05,610.72 L868.40,610.78 L868.75,610.73 L869.10,610.69 L869.45,610.64 L869.80,610.59 L870.15,610.54 L870.50,610.49 L870.85,610.42 L871.20,610.36 L871.55,610.30 L871.90,610.24 L872.25,610.26 L872.60,610.40 L872.95,610.53 L873.30,610.66 L873.65,610.80 L874.00,610.93 L874.35,610.93 L874.70,610.94 L875.05,610.94 L875.40,610.94 L875.75,610.95 L876.10,610.94 L876.45,610.91 L876.80,610.89 L877.15,610.86 L877.50,610.84 L877.85,610.81 L878.00,610.81 L878.20,610.80 L878.55,610.79 L878.90,610.78 L879.25,610.77 L879.60,610.76 L879.95,610.77 L880.30,610.79 L880.65,610.81 L881.00,610.83 L881.35,610.85 L881.70,610.86 L882.05,610.82 L882.40,610.78 L882.75,610.75 L883.10,610.71 L883.45,610.67 L883.80,610.68 L884.15,610.69 L884.50,610.70 L884.85,610.72 L885.20,610.73 L885.55,610.70 L885.90,610.61 L886.25,610.51 L886.60,610.42 L886.95,610.33 L887.30,610.23 L887.65,610.37 L888.00,610.50 L888.35,610.63 L888.70,610.77 L889.05,610.90 L889.40,610.91 L889.75,610.84 L890.10,610.76 L890.45,610.69 L890.80,610.61 L891.15,610.56 L891.50,610.66 L891.85,610.77 L892.20,610.87 L892.55,610.98 L892.90,611.08 L893.25,610.94 L893.60,610.70 L893.95,610.45 L894.30,610.21 L894.65,609.97 L895.00,609.84 L895.35,610.00 L895.70,610.16 L896.05,610.32 L896.40,610.48 L896.75,610.64 L897.10,610.68 L897.45,610.69 L897.80,610.71 L898.15,610.72 L898.50,610.74 L898.85,610.71 L899.20,610.63 L899.55,610.55 L899.90,610.47 L900.25,610.39 L900.60,610.31 L900.95,610.36 L901.30,610.40 L901.65,610.44 L902.00,610.49 L902.35,610.53 L902.70,610.56 L903.05,610.58 L903.40,610.59 L903.75,610.61 L904.10,610.62 L904.45,610.63 L904.80,610.62 L905.15,610.61 L905.50,610.60 L905.85,610.59 L906.20,610.57 L906.55,610.52 L906.90,610.45 L907.25,610.39 L907.60,610.32 L907.95,610.25 L908.30,610.21 L908.65,610.23 L909.00,610.25 L909.35,610.27 L909.70,610.29 L910.05,610.31 L910.40,610.37 L910.75,610.44 L911.10,610.50 L911.45,610.57 L911.80,610.64 L912.15,610.68 L912.50,610.69 L912.85,610.71 L913.20,610.72 L913.55,610.73 L913.90,610.75 L914.25,610.67 L914.60,610.60 L914.95,610.53 L915.30,610.46 L915.65,610.39 L916.00,610.35 L916.35,610.35 L916.70,610.35 L917.05,610.34 L917.40,610.34 L917.75,610.34 L918.10,610.34 L918.45,610.35 L918.80,610.35 L919.15,610.36 L919.50,610.36 L919.85,610.40 L920.00,610.42 L920.20,610.45 L920.55,610.49 L920.90,610.54 L921.25,610.59 L921.60,610.59 L921.95,610.46 L922.30,610.34 L922.65,610.21 L923.00,610.09 L923.35,609.96 L923.70,609.93 L924.05,609.91 L924.40,609.89 L924.75,609.87 L925.10,609.85 L925.45,609.88 L925.80,609.96 L926.15,610.05 L926.50,610.13 L926.85,610.21 L927.20,610.30 L927.55,610.22 L927.90,610.15 L928.25,610.07 L928.60,610.00 L928.95,609.92 L929.30,609.91 L929.65,609.94 L930.00,609.96 L930.35,609.99 L930.70,610.02 L931.05,610.05 L931.40,610.09 L931.75,610.13 L932.10,610.16 L932.45,610.20 L932.80,610.24 L933.15,610.26 L933.50,610.29 L933.85,610.31 L934.20,610.33 L934.55,610.35 L934.90,610.34 L935.25,610.24 L935.60,610.15 L935.95,610.05 L936.30,609.96 L936.65,609.87 L937.00,609.95 L937.35,610.05 L937.70,610.16 L938.05,610.27 L938.40,610.38 L938.75,610.37 L939.10,610.22 L939.45,610.07 L939.80,609.91 L940.15,609.76 L940.50,609.60 L940.85,609.74 L941.20,609.87 L941.55,610.01 L941.90,610.14 L942.25,610.27 L942.60,610.26 L942.95,610.13 L943.30,610.00 L943.65,609.88 L944.00,609.75 L944.35,609.64 L944.70,609.66 L945.05,609.67 L945.40,609.69 L945.75,609.70 L946.10,609.72 L946.45,609.80 L946.80,609.91 L947.15,610.02 L947.50,610.13 L947.85,610.24 L948.20,610.30 L948.55,610.24 L948.90,610.17 L949.25,610.11 L949.60,610.05 L949.95,609.98 L950.30,609.95 L950.65,609.92 L951.00,609.90 L951.35,609.87 L951.70,609.85 L952.05,609.84 L952.40,609.86 L952.75,609.88 L953.10,609.89 L953.45,609.91 L953.80,609.93 L954.15,609.98 L954.50,610.03 L954.85,610.08 L955.20,610.13 L955.55,610.18 L955.90,610.19 L956.25,610.15 L956.60,610.12 L956.95,610.09 L957.30,610.05 L957.65,610.03 L958.00,610.02 L958.35,610.02 L958.70,610.02 L959.05,610.02 L959.40,610.02 L959.75,610.06 L960.10,610.12 L960.45,610.18 L960.80,610.25 L961.15,610.31 L961.50,610.32 L961.85,610.21 L962.20,610.11 L962.55,610.00 L962.90,609.89 L963.00,609.86" stroke="#0a0a0a" stroke-width="1.05"/>
<path d="M107.50,451.32 L107.85,451.24 L108.20,451.06 L108.55,450.89 L108.90,450.73 L109.25,450.58 L109.60,450.62 L109.95,450.70 L110.30,450.79 L110.65,450.88 L111.00,450.97 L111.35,451.03 L111.70,451.09 L112.05,451.16 L112.40,451.24 L112.75,451.43 L113.10,451.67 L113.45,451.91 L113.60,452.01 L113.80,452.17 L114.15,452.52 L114.50,452.81 L114.85,453.19 L115.20,453.65 L115.55,454.16 L115.90,454.80 L116.25,455.53 L116.60,456.27 L116.95,457.00 L117.30,457.72 L117.65,458.02 L118.00,458.27 L118.10,458.32 L118.35,458.46 L118.70,458.62 L119.05,459.05 L119.40,459.84 L119.75,460.63 L120.10,461.40 L120.45,462.19 L120.80,462.50 L121.15,462.74 L121.50,463.00 L121.85,463.29 L122.20,463.66 L122.55,464.31 L122.60,464.41 L122.90,465.06 L123.25,465.96 L123.60,466.97 L123.95,467.85 L124.30,468.65 L124.65,469.39 L125.00,470.02 L125.35,470.50 L125.70,470.84 L126.00,470.92 L126.05,470.91 L126.40,470.67 L126.75,470.21 L127.10,469.74 L127.45,469.35 L127.80,469.07 L128.15,469.01 L128.20,469.03 L128.50,469.18 L128.85,469.37 L129.20,469.64 L129.55,469.98 L129.90,470.37 L130.25,470.72 L130.60,470.97 L130.95,471.24 L131.30,471.53 L131.65,471.81 L132.00,471.87 L132.35,471.86 L132.70,471.82 L132.80,471.80 L133.05,471.77 L133.40,472.00 L133.75,472.74 L134.10,473.45 L134.45,474.08 L134.80,474.55 L135.00,474.68 L135.15,474.70 L135.50,474.69 L135.85,474.62 L136.20,474.49 L136.55,474.29 L136.90,473.90 L137.25,473.49 L137.60,473.06 L137.95,472.63 L138.30,472.44 L138.40,472.43 L138.65,472.41 L139.00,472.34 L139.35,472.22 L139.70,472.07 L140.05,471.38 L140.40,470.67 L140.75,469.94 L141.10,469.19 L141.45,468.42 L141.80,467.62 L142.15,466.83 L142.50,466.04 L142.85,465.27 L142.90,465.16 L143.20,464.84 L143.55,464.45 L143.90,464.06 L144.25,463.67 L144.60,463.24 L144.95,462.71 L145.30,462.17 L145.65,461.63 L146.00,461.09 L146.35,460.41 L146.70,459.68 L147.05,458.94 L147.40,458.19 L147.75,457.45 L148.10,456.77 L148.45,456.08 L148.60,455.78 L148.80,455.38 L149.15,454.67 L149.50,454.13 L149.85,453.71 L150.20,453.28 L150.55,452.84 L150.90,452.40 L151.25,451.84 L151.60,451.28 L151.95,450.71 L152.30,450.14 L152.65,449.42 L153.00,448.51 L153.35,447.60 L153.70,446.68 L154.05,445.77 L154.20,445.40 L154.40,444.93 L154.75,444.12 L155.10,443.31 L155.45,442.50 L155.80,441.76 L156.15,441.21 L156.50,440.65 L156.85,440.07 L157.20,439.49 L157.55,438.80 L157.90,438.05 L158.25,437.28 L158.60,436.49 L158.80,436.02 L158.95,435.58 L159.30,434.12 L159.65,432.61 L160.00,431.08 L160.35,429.52 L160.70,428.55 L161.05,428.03 L161.40,427.50 L161.75,426.96 L162.10,426.43 L162.45,425.47 L162.80,424.51 L163.15,423.58 L163.30,423.19 L163.50,422.67 L163.85,421.62 L164.20,420.39 L164.55,419.16 L164.90,417.93 L165.25,416.71 L165.60,415.58 L165.95,414.48 L166.30,413.41 L166.65,412.36 L167.00,411.42 L167.35,410.72 L167.70,410.06 L167.80,409.88 L168.05,409.43 L168.40,408.81 L168.75,408.05 L169.10,407.24 L169.45,406.44 L169.80,405.66 L170.15,404.93 L170.50,404.36 L170.85,403.82 L171.20,403.33 L171.55,402.87 L171.90,402.16 L172.25,401.28 L172.30,401.15 L172.60,400.44 L172.95,399.64 L173.30,398.86 L173.65,398.61 L174.00,398.37 L174.35,398.15 L174.70,397.94 L175.05,397.68 L175.40,397.34 L175.70,397.04 L175.75,396.99 L176.10,396.61 L176.45,396.19 L176.80,395.67 L177.15,395.13 L177.50,394.61 L177.85,394.12 L178.20,393.83 L178.55,393.93 L178.90,394.12 L179.10,394.27 L179.25,394.41 L179.60,394.84 L179.95,395.19 L180.30,395.55 L180.65,395.97 L181.00,396.41 L181.35,396.81 L181.40,396.84 L181.70,396.99 L182.05,397.20 L182.40,397.45 L182.75,397.75 L183.10,398.42 L183.45,399.38 L183.80,400.41 L184.15,401.49 L184.50,402.65 L184.70,403.09 L184.85,403.46 L185.20,404.54 L185.55,405.87 L185.90,407.40 L186.25,409.07 L186.60,410.83 L186.95,412.59 L187.00,412.83 L187.30,414.48 L187.65,416.67 L188.00,418.92 L188.35,420.95 L188.70,422.53 L188.80,422.85 L189.05,423.60 L189.40,424.62 L189.75,425.57 L190.10,426.24 L190.40,426.49 L190.45,426.48 L190.80,425.65 L191.15,423.51 L191.50,420.89 L191.80,418.85 L191.85,418.54 L192.20,415.94 L192.55,413.88 L192.70,413.78 L192.90,414.43 L193.25,417.24 L193.50,419.91 L193.60,421.23 L193.95,428.46 L194.30,437.40 L194.50,442.16 L194.65,445.49 L195.00,453.35 L195.35,461.30 L195.70,469.26 L196.00,475.72 L196.05,476.76 L196.40,484.92 L196.75,493.07 L197.10,500.33 L197.20,502.11 L197.45,506.39 L197.80,512.06 L198.15,517.21 L198.50,521.79 L198.80,525.26 L198.85,525.80 L199.20,529.28 L199.55,532.46 L199.90,535.39 L200.25,538.05 L200.60,540.48 L200.95,542.72 L201.00,543.02 L201.30,544.75 L201.65,546.66 L202.00,548.44 L202.35,550.27 L202.70,551.56 L203.05,552.75 L203.40,553.84 L203.75,554.88 L204.00,555.73 L204.10,556.06 L204.45,557.18 L204.80,558.25 L205.15,559.27 L205.50,560.23 L205.85,561.14 L206.20,561.99 L206.55,562.79 L206.90,563.54 L207.25,563.97 L207.30,564.03 L207.60,564.38 L207.95,564.78 L208.30,565.18 L208.65,565.60 L209.00,566.05 L209.35,566.46 L209.70,566.80 L210.05,567.07 L210.40,567.50 L210.70,567.83 L210.75,567.87 L211.10,568.20 L211.45,568.52 L211.80,568.79 L212.15,568.96 L212.50,569.12 L212.85,569.24 L213.00,569.29 L213.20,569.21 L213.55,568.38 L213.90,567.02 L214.25,565.46 L214.60,563.94 L214.95,562.76 L215.00,562.68 L215.30,562.22 L215.65,561.65 L216.00,561.14 L216.35,560.76 L216.70,560.40 L217.00,560.20 L217.05,560.20 L217.40,560.48 L217.75,561.20 L218.10,562.23 L218.45,563.36 L218.80,564.51 L219.00,565.12 L219.15,565.58 L219.50,566.77 L219.85,568.21 L220.20,569.84 L220.55,571.45 L220.90,572.96 L221.00,573.36 L221.25,574.35 L221.60,575.72 L221.95,577.06 L222.30,578.74 L222.65,579.97 L223.00,581.04 L223.20,581.56 L223.35,581.93 L223.70,582.76 L224.05,583.55 L224.40,584.30 L224.75,584.32 L225.10,584.03 L225.45,583.70 L225.80,583.34 L226.15,583.16 L226.50,584.20 L226.85,585.20 L227.20,586.18 L227.55,587.12 L227.70,587.52 L227.90,587.63 L228.25,587.82 L228.60,588.01 L228.95,588.20 L229.30,588.38 L229.65,588.52 L230.00,588.65 L230.35,588.76 L230.70,588.85 L231.05,588.88 L231.40,588.84 L231.75,588.78 L232.10,588.69 L232.45,588.56 L232.80,589.09 L233.15,589.70 L233.30,589.94 L233.50,590.27 L233.85,590.84 L234.20,591.06 L234.55,590.42 L234.90,589.78 L235.25,589.14 L235.60,588.50 L235.95,588.64 L236.30,589.09 L236.65,589.54 L237.00,589.99 L237.35,590.40 L237.70,590.57 L238.05,590.74 L238.40,590.91 L238.75,591.08 L239.10,590.72 L239.45,589.98 L239.80,589.23 L240.00,588.80 L240.15,588.48 L240.50,587.73 L240.85,588.03 L241.20,588.33 L241.55,588.62 L241.90,588.90 L242.25,588.94 L242.60,588.64 L242.95,588.33 L243.30,588.02 L243.65,587.71 L244.00,587.95 L244.35,588.27 L244.70,588.59 L245.05,588.91 L245.40,589.21 L245.75,589.45 L246.10,589.68 L246.45,589.92 L246.80,590.15 L246.80,590.15 L247.15,590.24 L247.50,590.27 L247.85,590.29 L248.20,590.30 L248.55,590.03 L248.90,588.11 L249.25,586.17 L249.60,584.22 L249.95,582.24 L250.30,581.89 L250.65,582.75 L251.00,583.58 L251.30,584.26 L251.35,584.37 L251.70,584.92 L252.05,584.37 L252.40,583.57 L252.75,582.59 L253.10,581.50 L253.45,580.32 L253.80,579.11 L254.00,578.02 L254.15,577.48 L254.50,576.05 L254.85,574.48 L255.20,572.58 L255.55,570.70 L255.90,569.00 L256.25,567.60 L256.30,567.42 L256.60,566.41 L256.95,565.22 L257.30,564.10 L257.65,563.12 L258.00,562.34 L258.35,562.10 L258.50,562.14 L258.70,562.26 L259.05,562.62 L259.40,563.11 L259.75,563.67 L260.10,564.11 L260.45,564.58 L260.80,565.05 L261.15,565.49 L261.50,565.87 L261.50,565.87 L261.85,566.20 L262.20,566.51 L262.55,566.80 L262.90,567.09 L263.25,567.32 L263.60,567.56 L263.95,567.82 L264.30,568.10 L264.65,568.52 L264.90,568.96 L265.00,569.14 L265.35,569.79 L265.70,570.46 L266.05,571.17 L266.40,571.75 L266.75,572.32 L267.10,572.94 L267.45,573.59 L267.80,574.26 L268.15,574.94 L268.20,575.04 L268.50,575.67 L268.85,576.50 L269.20,577.42 L269.55,578.44 L269.90,579.54 L270.25,580.70 L270.50,581.56 L270.60,581.93 L270.95,583.48 L271.30,585.17 L271.65,586.94 L272.00,588.58 L272.35,588.77 L272.70,589.74 L272.80,589.97 L273.05,590.47 L273.40,591.14 L273.75,591.78 L274.10,592.38 L274.45,593.27 L274.80,594.12 L275.15,594.93 L275.50,595.69 L275.85,595.90 L276.20,595.41 L276.20,595.41 L276.55,594.89 L276.90,594.37 L277.25,593.85 L277.60,593.38 L277.95,592.91 L278.30,592.45 L278.65,591.98 L279.00,591.95 L279.35,592.98 L279.70,594.01 L280.05,595.04 L280.40,596.07 L280.70,596.20 L280.75,596.16 L281.10,595.92 L281.45,595.76 L281.80,595.67 L282.15,595.76 L282.50,596.66 L282.85,597.59 L283.20,598.53 L283.55,599.48 L283.90,599.65 L284.25,599.21 L284.60,598.75 L284.95,598.23 L285.20,597.82 L285.30,597.65 L285.65,597.62 L286.00,597.58 L286.35,597.52 L286.70,597.47 L287.05,597.33 L287.40,597.08 L287.75,596.83 L288.10,596.58 L288.45,596.32 L288.80,597.26 L289.15,598.39 L289.50,599.53 L289.85,600.66 L290.20,601.63 L290.55,602.20 L290.90,602.76 L291.25,603.33 L291.60,603.91 L291.95,603.25 L292.00,603.09 L292.30,602.11 L292.65,600.96 L293.00,599.82 L293.35,598.86 L293.70,599.05 L294.05,599.23 L294.40,599.41 L294.75,599.59 L295.10,600.00 L295.45,600.58 L295.80,601.15 L296.15,601.73 L296.50,602.31 L296.85,601.89 L297.20,601.47 L297.55,601.05 L297.90,600.62 L298.25,600.52 L298.60,600.83 L298.80,601.00 L298.95,601.14 L299.30,601.46 L299.65,601.79 L300.00,601.91 L300.35,602.01 L300.70,602.10 L301.05,602.19 L301.40,602.34 L301.75,602.64 L302.10,602.92 L302.45,603.19 L302.80,603.44 L303.15,603.76 L303.30,603.91 L303.50,604.08 L303.85,604.28 L304.20,604.36 L304.55,604.24 L304.90,603.42 L305.25,602.52 L305.60,601.58 L305.95,600.61 L306.30,600.04 L306.65,599.79 L307.00,599.55 L307.35,599.35 L307.70,599.19 L307.80,598.92 L308.05,598.23 L308.40,597.23 L308.75,596.18 L309.10,595.11 L309.45,594.37 L309.80,594.07 L310.15,593.80 L310.50,593.57 L310.85,593.39 L311.20,592.26 L311.55,591.04 L311.90,589.92 L312.25,588.92 L312.30,588.79 L312.60,588.34 L312.95,588.59 L313.30,588.85 L313.65,589.11 L314.00,589.36 L314.35,590.03 L314.70,590.87 L315.05,591.70 L315.40,592.54 L315.75,593.18 L316.10,592.66 L316.45,592.15 L316.80,591.63 L316.80,591.63 L317.15,590.95 L317.50,590.52 L317.85,590.29 L318.20,589.91 L318.55,589.48 L318.90,589.05 L319.25,588.26 L319.60,587.63 L319.95,587.23 L320.20,587.13 L320.30,587.15 L320.65,587.57 L321.00,588.46 L321.35,589.55 L321.70,590.74 L322.05,591.93 L322.40,592.59 L322.50,592.73 L322.75,593.05 L323.10,593.52 L323.45,593.99 L323.80,594.54 L324.15,595.26 L324.50,595.95 L324.85,596.61 L325.20,597.22 L325.55,597.42 L325.90,597.41 L325.90,597.41 L326.25,597.36 L326.60,597.29 L326.95,597.14 L327.30,596.49 L327.65,595.82 L328.00,595.14 L328.35,594.43 L328.70,594.70 L329.05,595.68 L329.40,596.64 L329.75,597.56 L330.10,598.46 L330.40,598.63 L330.45,598.66 L330.80,598.85 L331.15,599.03 L331.50,599.21 L331.85,599.25 L332.20,599.09 L332.55,598.93 L332.90,598.77 L333.25,598.60 L333.60,598.82 L333.95,599.09 L334.30,599.37 L334.65,599.63 L335.00,599.88 L335.35,600.09 L335.70,600.29 L336.05,600.49 L336.40,600.68 L336.75,600.83 L337.10,600.96 L337.20,601.00 L337.45,601.04 L337.80,600.95 L338.15,600.65 L338.50,599.94 L338.85,599.15 L339.20,598.30 L339.55,597.43 L339.90,596.36 L340.25,595.17 L340.60,594.05 L340.95,593.03 L341.30,592.15 L341.65,592.72 L341.70,592.82 L342.00,593.41 L342.35,594.10 L342.70,594.78 L343.05,595.22 L343.40,595.34 L343.75,595.45 L344.10,595.56 L344.45,595.67 L344.80,595.96 L345.15,596.28 L345.50,596.60 L345.85,596.92 L346.20,597.09 L346.20,597.09 L346.55,596.93 L346.90,596.82 L347.25,596.75 L347.60,596.72 L347.95,596.53 L348.30,596.28 L348.65,596.05 L349.00,595.82 L349.35,595.66 L349.70,595.85 L350.05,596.02 L350.40,596.18 L350.70,596.29 L350.75,596.30 L351.10,597.01 L351.45,598.15 L351.80,599.29 L352.15,600.43 L352.50,601.56 L352.85,601.20 L353.20,600.84 L353.55,600.48 L353.90,600.12 L354.25,600.13 L354.60,600.63 L354.95,601.14 L355.30,601.65 L355.65,602.16 L356.00,602.43 L356.35,602.66 L356.70,602.90 L357.05,603.15 L357.40,603.06 L357.50,602.79 L357.75,602.12 L358.10,601.20 L358.45,600.30 L358.80,599.40 L359.15,599.62 L359.50,600.29 L359.85,600.96 L360.20,601.64 L360.55,602.27 L360.90,602.53 L361.25,602.78 L361.60,603.04 L361.95,603.28 L362.30,603.52 L362.65,603.76 L363.00,603.98 L363.20,604.10 L363.35,604.18 L363.70,604.38 L364.05,604.52 L364.40,604.66 L364.75,604.80 L365.10,604.93 L365.45,605.00 L365.80,605.00 L366.15,605.00 L366.50,605.01 L366.85,605.01 L367.20,605.11 L367.55,605.23 L367.90,605.35 L368.25,605.48 L368.60,605.43 L368.80,605.16 L368.95,604.96 L369.30,604.50 L369.65,604.06 L370.00,603.64 L370.35,604.02 L370.70,604.73 L371.05,605.44 L371.40,606.15 L371.75,606.75 L372.10,606.72 L372.45,606.69 L372.80,606.63 L373.15,606.56 L373.50,606.76 L373.85,607.17 L374.20,607.55 L374.50,607.84 L374.55,607.89 L374.90,608.07 L375.25,607.53 L375.60,606.86 L375.95,606.11 L376.30,605.32 L376.65,604.52 L377.00,603.75 L377.35,603.10 L377.70,602.60 L377.90,602.40 L378.05,602.29 L378.40,602.91 L378.75,603.70 L379.10,604.49 L379.45,605.30 L379.80,605.85 L380.15,605.74 L380.50,605.63 L380.85,605.52 L381.20,605.42 L381.55,605.45 L381.90,605.54 L382.25,605.62 L382.60,605.70 L382.95,605.76 L383.30,605.73 L383.65,605.70 L384.00,605.65 L384.35,605.59 L384.60,605.50 L384.70,605.44 L385.05,605.23 L385.40,605.01 L385.75,604.77 L386.10,604.52 L386.45,604.58 L386.80,604.62 L387.15,604.66 L387.50,604.69 L387.85,604.62 L388.20,604.42 L388.55,604.22 L388.90,604.02 L389.25,603.82 L389.60,604.01 L389.95,604.27 L390.30,604.54 L390.65,604.81 L391.00,604.96 L391.35,604.79 L391.40,604.76 L391.70,604.62 L392.05,604.45 L392.40,604.28 L392.75,604.36 L393.10,604.54 L393.45,604.72 L393.80,604.90 L394.15,604.96 L394.50,604.22 L394.85,603.48 L395.20,602.75 L395.55,602.01 L395.90,602.16 L396.25,602.96 L396.60,603.76 L396.95,604.57 L397.30,605.38 L397.65,604.75 L398.00,604.12 L398.35,603.49 L398.70,602.87 L399.05,602.52 L399.40,602.52 L399.75,602.53 L400.00,602.54 L400.10,602.54 L400.45,602.55 L400.80,602.73 L401.15,602.94 L401.50,603.15 L401.85,603.37 L402.20,603.49 L402.55,603.37 L402.90,603.26 L403.25,603.14 L403.60,603.03 L403.95,603.24 L404.30,603.58 L404.65,603.93 L405.00,604.27 L405.35,604.53 L405.70,604.23 L406.05,603.93 L406.40,603.64 L406.75,603.34 L407.10,603.12 L407.45,602.95 L407.80,602.79 L408.15,602.62 L408.50,602.45 L408.85,602.55 L409.20,602.64 L409.55,602.73 L409.90,602.81 L410.00,602.84 L410.25,603.21 L410.60,604.00 L410.95,604.80 L411.30,605.59 L411.65,606.38 L412.00,606.08 L412.35,605.59 L412.70,605.10 L413.05,604.61 L413.40,604.12 L413.75,603.64 L414.10,603.16 L414.45,602.69 L414.80,602.20 L415.15,602.36 L415.50,602.76 L415.85,603.16 L416.20,603.56 L416.55,603.82 L416.90,603.20 L417.25,602.58 L417.60,601.96 L417.95,601.34 L418.30,601.76 L418.65,602.96 L419.00,604.17 L419.35,605.37 L419.70,606.58 L420.00,605.49 L420.05,605.30 L420.40,604.03 L420.75,602.75 L421.10,601.47 L421.45,601.03 L421.80,601.72 L422.15,602.40 L422.50,603.08 L422.85,603.76 L423.20,603.82 L423.55,603.78 L423.90,603.73 L424.25,603.68 L424.60,603.41 L424.95,602.60 L425.30,601.78 L425.65,600.97 L426.00,600.15 L426.35,600.33 L426.70,600.91 L427.05,601.49 L427.40,602.07 L427.75,602.60 L428.00,602.73 L428.10,602.79 L428.45,602.98 L428.80,603.18 L429.15,603.37 L429.50,603.30 L429.85,603.04 L430.20,602.78 L430.55,602.52 L430.90,602.26 L431.25,602.12 L431.60,601.98 L431.95,601.83 L432.30,601.69 L432.65,601.68 L433.00,601.87 L433.35,602.05 L433.70,602.23 L434.05,602.41 L434.20,602.33 L434.40,602.11 L434.75,601.73 L435.10,601.34 L435.45,600.94 L435.80,600.63 L436.15,600.58 L436.50,600.52 L436.85,600.45 L437.20,600.38 L437.55,600.15 L437.90,599.84 L438.25,599.53 L438.60,599.23 L438.95,598.99 L439.30,599.15 L439.65,599.31 L440.00,599.47 L440.35,599.65 L440.70,599.33 L441.05,598.66 L441.40,597.99 L441.75,597.34 L442.10,596.69 L442.45,597.29 L442.80,597.91 L443.15,598.53 L443.30,598.81 L443.50,599.18 L443.85,599.36 L444.20,598.90 L444.55,598.46 L444.90,598.03 L445.25,597.61 L445.60,597.42 L445.95,597.29 L446.30,597.16 L446.65,597.03 L447.00,597.14 L447.35,597.78 L447.70,598.44 L448.05,599.10 L448.40,599.76 L448.75,600.38 L449.10,601.00 L449.45,601.62 L449.80,602.24 L450.15,602.74 L450.50,602.59 L450.85,602.44 L451.20,602.28 L451.55,602.12 L451.90,601.79 L452.00,601.66 L452.25,601.34 L452.60,600.90 L452.95,600.45 L453.30,600.01 L453.65,600.57 L454.00,601.12 L454.35,601.68 L454.70,602.25 L455.05,602.43 L455.40,602.11 L455.75,601.80 L456.10,601.48 L456.45,601.16 L456.80,601.32 L457.15,601.56 L457.50,601.79 L457.85,602.03 L458.20,602.25 L458.55,602.44 L458.90,602.63 L459.25,602.82 L459.60,603.01 L459.95,602.50 L460.00,602.39 L460.30,601.71 L460.65,600.93 L461.00,600.14 L461.35,599.63 L461.70,600.68 L462.05,601.73 L462.40,602.78 L462.75,603.83 L463.10,604.09 L463.45,603.76 L463.80,603.42 L464.15,603.09 L464.50,602.75 L464.85,602.99 L465.20,603.23 L465.55,603.47 L465.90,603.71 L466.25,603.76 L466.60,603.58 L466.95,603.39 L467.30,603.20 L467.65,603.01 L468.00,603.05 L468.35,603.12 L468.70,603.19 L469.05,603.25 L469.40,603.37 L469.75,603.65 L470.00,603.85 L470.10,603.23 L470.45,603.50 L470.80,603.77 L471.15,604.36 L471.50,605.08 L471.85,605.79 L472.20,606.51 L472.55,607.17 L472.90,607.54 L473.25,607.91 L473.60,608.28 L473.95,608.64 L474.30,608.47 L474.65,607.90 L475.00,607.32 L475.35,606.74 L475.70,606.16 L476.05,606.63 L476.40,607.09 L476.75,607.56 L477.10,608.02 L477.45,608.08 L477.80,607.63 L478.15,607.16 L478.50,606.70 L478.85,606.24 L479.20,605.68 L479.55,605.11 L479.90,604.53 L480.25,603.95 L480.60,603.77 L480.95,604.57 L481.30,605.36 L481.65,606.16 L482.00,606.95 L482.35,607.28 L482.70,607.41 L483.05,607.54 L483.40,607.67 L483.75,607.74 L484.10,607.43 L484.45,607.12 L484.80,606.81 L485.15,606.49 L485.50,606.52 L485.85,606.80 L486.00,606.91 L486.20,607.07 L486.55,607.35 L486.90,607.62 L487.25,607.73 L487.60,607.83 L487.95,607.94 L488.30,608.04 L488.65,607.88 L489.00,607.35 L489.35,606.82 L489.70,606.29 L490.05,605.76 L490.40,605.49 L490.75,605.26 L491.10,605.04 L491.45,604.81 L491.80,604.79 L492.15,605.26 L492.50,605.73 L492.85,606.20 L493.20,606.67 L493.55,606.81 L493.90,606.82 L494.25,606.82 L494.60,606.83 L494.95,606.83 L495.30,606.78 L495.65,606.73 L496.00,606.68 L496.35,606.63 L496.70,606.24 L497.05,605.59 L497.40,604.94 L497.75,604.29 L498.10,603.64 L498.45,605.07 L498.80,606.50 L499.15,607.92 L499.50,609.35 L499.85,609.83 L500.20,609.03 L500.55,608.24 L500.90,607.44 L501.25,606.65 L501.60,606.89 L501.95,607.31 L502.30,607.73 L502.65,608.14 L503.00,608.47 L503.35,608.56 L503.70,608.65 L504.05,608.74 L504.40,608.83 L504.75,608.80 L505.10,608.72 L505.45,608.64 L505.80,608.55 L506.15,608.50 L506.50,608.63 L506.85,608.75 L507.20,608.88 L507.55,609.00 L507.90,608.75 L508.25,608.22 L508.60,607.69 L508.95,607.15 L509.30,606.62 L509.65,607.04 L510.00,607.46 L510.35,607.88 L510.70,608.30 L511.05,608.75 L511.40,609.23 L511.75,609.71 L512.10,610.19 L512.45,610.66 L512.80,610.34 L513.15,609.89 L513.50,609.44 L513.85,608.98 L514.20,608.51 L514.55,607.98 L514.90,607.45 L515.25,606.92 L515.60,606.39 L515.95,606.57 L516.30,607.03 L516.65,607.48 L517.00,607.94 L517.35,608.37 L517.70,608.61 L518.05,608.85 L518.40,609.10 L518.75,609.34 L519.10,609.26 L519.45,608.92 L519.80,608.59 L520.00,608.40 L520.15,608.26 L520.50,607.93 L520.85,607.58 L521.20,607.23 L521.55,606.89 L521.90,606.54 L522.25,606.68 L522.60,607.46 L522.95,608.24 L523.30,609.03 L523.65,609.81 L524.00,609.03 L524.35,607.99 L524.70,606.96 L525.05,605.92 L525.40,605.36 L525.75,606.01 L526.10,606.67 L526.45,607.32 L526.80,607.97 L527.15,608.02 L527.50,607.82 L527.85,607.63 L528.20,607.44 L528.55,607.21 L528.90,606.77 L529.25,606.33 L529.60,605.90 L529.95,605.46 L530.30,605.78 L530.65,606.68 L531.00,607.58 L531.35,608.48 L531.70,609.37 L532.05,609.05 L532.40,608.72 L532.75,608.40 L533.10,608.08 L533.45,607.65 L533.80,607.09 L534.15,606.52 L534.50,605.96 L534.85,605.40 L535.20,605.88 L535.55,606.54 L535.90,607.20 L536.25,607.85 L536.60,608.21 L536.95,607.83 L537.30,607.44 L537.65,607.06 L538.00,606.68 L538.35,606.18 L538.70,605.63 L539.05,605.08 L539.40,604.53 L539.75,604.13 L540.10,604.58 L540.45,605.03 L540.80,605.48 L541.15,605.94 L541.50,606.33 L541.85,606.69 L542.20,607.04 L542.55,607.39 L542.90,607.75 L543.25,607.89 L543.60,608.02 L543.95,608.16 L544.30,608.30 L544.65,608.31 L545.00,608.13 L545.35,607.96 L545.70,607.78 L546.05,607.61 L546.40,607.54 L546.75,607.50 L547.10,607.45 L547.45,607.41 L547.80,607.42 L548.15,607.58 L548.50,607.74 L548.85,607.90 L549.20,608.05 L549.55,607.92 L549.90,607.66 L550.25,607.41 L550.60,607.16 L550.95,607.02 L551.30,607.53 L551.65,608.05 L552.00,608.56 L552.35,609.08 L552.70,608.44 L553.05,606.93 L553.40,605.43 L553.75,603.92 L554.10,602.41 L554.45,603.59 L554.80,604.77 L555.15,605.95 L555.50,607.13 L555.85,607.84 L556.20,607.93 L556.55,608.02 L556.90,608.11 L557.25,608.21 L557.60,607.71 L557.95,607.12 L558.30,606.52 L558.65,605.93 L559.00,605.54 L559.35,605.67 L559.70,605.80 L560.05,605.93 L560.40,606.06 L560.75,606.69 L561.10,607.52 L561.45,608.35 L561.80,609.19 L562.15,609.84 L562.50,609.39 L562.85,608.95 L563.20,608.50 L563.55,608.06 L563.90,607.74 L564.25,607.51 L564.60,607.28 L564.95,607.05 L565.30,606.82 L565.65,607.05 L566.00,607.28 L566.35,607.52 L566.70,607.75 L567.05,607.75 L567.40,607.44 L567.75,607.14 L568.10,606.83 L568.45,606.52 L568.80,606.72 L569.15,607.01 L569.50,607.29 L569.85,607.57 L570.20,607.67 L570.55,607.32 L570.90,606.97 L571.25,606.62 L571.60,606.27 L571.95,606.42 L572.30,606.77 L572.65,607.12 L573.00,607.47 L573.35,607.50 L573.70,605.62 L574.05,603.74 L574.40,601.86 L574.75,599.98 L575.10,600.47 L575.45,602.74 L575.80,605.02 L576.15,607.29 L576.50,609.56 L576.85,608.88 L577.20,608.19 L577.55,607.51 L577.90,606.82 L578.25,606.26 L578.60,605.86 L578.95,605.46 L579.30,605.07 L579.65,604.67 L580.00,605.04 L580.35,605.55 L580.70,606.05 L581.05,606.56 L581.40,606.90 L581.75,606.85 L582.10,606.79 L582.45,606.74 L582.80,606.68 L583.15,606.81 L583.50,607.00 L583.85,607.20 L584.20,607.39 L584.55,607.49 L584.90,607.01 L585.25,606.53 L585.60,606.04 L585.95,605.56 L586.30,605.68 L586.65,606.25 L587.00,606.83 L587.35,607.40 L587.70,607.98 L588.05,609.18 L588.40,610.38 L588.75,611.57 L589.10,612.77 L589.45,612.68 L589.80,610.86 L590.15,609.03 L590.50,607.21 L590.85,605.39 L591.20,605.64 L591.55,606.24 L591.90,606.84 L592.25,607.44 L592.60,607.81 L592.95,607.56 L593.30,607.32 L593.65,607.08 L594.00,606.84 L594.35,606.91 L594.70,607.09 L595.05,607.28 L595.40,607.47 L595.75,607.52 L596.10,606.78 L596.45,606.03 L596.80,605.28 L597.15,604.54 L597.50,604.36 L597.85,604.61 L598.20,604.85 L598.55,605.10 L598.90,605.34 L599.25,605.94 L599.60,606.54 L599.95,607.14 L600.00,607.23 L600.30,607.74 L600.65,608.00 L601.00,607.82 L601.35,607.63 L601.70,607.45 L602.05,607.26 L602.40,607.77 L602.75,608.39 L603.10,609.02 L603.45,609.64 L603.80,609.84 L604.15,608.97 L604.50,608.10 L604.85,607.23 L605.20,606.36 L605.55,606.34 L605.90,606.67 L606.25,607.00 L606.60,607.33 L606.95,607.75 L607.30,608.77 L607.65,609.79 L608.00,610.81 L608.35,611.83 L608.70,611.49 L609.05,610.12 L609.40,608.76 L609.75,607.39 L610.10,606.02 L610.45,605.98 L610.80,605.93 L611.15,605.88 L611.50,605.83 L611.85,605.94 L612.20,606.26 L612.55,606.59 L612.90,606.91 L613.25,607.24 L613.60,607.28 L613.95,607.28 L614.30,607.28 L614.65,607.28 L615.00,607.37 L615.35,607.71 L615.70,608.04 L616.05,608.37 L616.40,608.71 L616.75,608.61 L617.10,608.35 L617.45,608.09 L617.80,607.82 L618.15,607.55 L618.50,607.23 L618.85,606.90 L619.20,606.57 L619.55,606.24 L619.90,606.31 L620.25,606.68 L620.60,607.04 L620.95,607.40 L621.30,607.76 L621.65,608.67 L622.00,609.58 L622.35,610.48 L622.70,611.39 L623.05,611.69 L623.40,611.18 L623.75,610.68 L624.10,610.17 L624.45,609.67 L624.80,608.31 L625.15,606.80 L625.50,605.30 L625.85,603.79 L626.20,603.00 L626.55,603.99 L626.90,604.97 L627.25,605.96 L627.60,606.94 L627.95,607.03 L628.30,606.76 L628.65,606.49 L629.00,606.23 L629.35,606.07 L629.70,606.64 L630.05,607.20 L630.40,607.76 L630.75,608.32 L631.10,608.39 L631.45,608.10 L631.80,607.81 L632.15,607.51 L632.50,607.22 L632.85,606.95 L633.20,606.67 L633.55,606.40 L633.90,606.12 L634.25,606.26 L634.60,606.96 L634.95,607.65 L635.30,608.34 L635.65,609.04 L636.00,609.13 L636.35,609.11 L636.70,609.10 L637.05,609.09 L637.40,609.01 L637.75,608.75 L638.10,608.49 L638.45,608.24 L638.80,607.98 L639.15,607.85 L639.50,607.77 L639.85,607.69 L640.20,607.61 L640.55,607.56 L640.90,607.70 L641.25,607.85 L641.60,607.99 L641.95,608.14 L642.30,608.41 L642.65,608.77 L643.00,609.13 L643.35,609.48 L643.70,609.84 L644.05,609.56 L644.40,609.29 L644.75,609.01 L645.10,608.73 L645.45,608.43 L645.80,608.10 L646.15,607.78 L646.50,607.45 L646.85,607.13 L647.20,607.60 L647.55,608.21 L647.90,608.82 L648.25,609.43 L648.60,609.75 L648.95,609.35 L649.30,608.95 L649.65,608.55 L650.00,608.15 L650.35,607.97 L650.70,607.87 L651.05,607.78 L651.40,607.68 L651.75,607.56 L652.10,607.30 L652.45,607.03 L652.80,606.77 L653.15,606.51 L653.50,606.45 L653.85,606.54 L654.20,606.62 L654.55,606.71 L654.90,606.80 L655.25,605.91 L655.60,605.02 L655.95,604.13 L656.30,603.24 L656.65,602.76 L657.00,602.83 L657.35,602.89 L657.70,602.96 L658.05,603.03 L658.40,604.26 L658.75,605.68 L659.10,607.10 L659.45,608.52 L659.80,609.49 L660.15,609.32 L660.50,609.16 L660.85,608.99 L661.20,608.83 L661.55,608.57 L661.90,608.29 L662.25,608.00 L662.60,607.71 L662.95,607.53 L663.30,608.00 L663.65,608.48 L664.00,608.95 L664.35,609.42 L664.70,609.49 L665.05,609.27 L665.40,609.04 L665.75,608.82 L666.10,608.60 L666.45,608.57 L666.80,608.55 L667.15,608.53 L667.50,608.51 L667.85,608.04 L668.20,606.98 L668.55,605.93 L668.90,604.87 L669.25,603.81 L669.60,604.38 L669.95,605.22 L670.30,606.05 L670.65,606.89 L671.00,607.56 L671.35,607.85 L671.70,608.14 L672.05,608.42 L672.40,608.71 L672.75,609.08 L673.10,609.48 L673.45,609.88 L673.80,610.28 L674.15,610.64 L674.50,610.73 L674.85,610.81 L675.20,610.90 L675.55,610.99 L675.90,610.94 L676.25,610.78 L676.60,610.63 L676.95,610.48 L677.30,610.32 L677.65,609.36 L678.00,608.40 L678.35,607.44 L678.70,606.47 L679.05,605.76 L679.40,605.37 L679.75,604.99 L680.00,604.71 L680.10,604.60 L680.45,604.22 L680.80,605.04 L681.15,606.07 L681.50,607.09 L681.85,608.11 L682.20,608.78 L682.55,608.56 L682.90,608.35 L683.25,608.13 L683.60,607.91 L683.95,608.09 L684.30,608.42 L684.65,608.75 L685.00,609.07 L685.35,609.29 L685.70,608.87 L686.05,608.44 L686.40,608.01 L686.75,607.58 L687.10,607.46 L687.45,607.56 L687.80,607.67 L688.15,607.77 L688.50,607.87 L688.85,607.21 L689.20,606.54 L689.55,605.88 L689.90,605.21 L690.25,605.13 L690.60,605.83 L690.95,606.53 L691.30,607.23 L691.30,607.23 L691.65,607.93 L692.00,607.72 L692.35,607.36 L692.70,606.99 L693.05,606.62 L693.40,606.43 L693.75,606.69 L694.10,606.94 L694.45,607.19 L694.80,607.44 L695.15,607.51 L695.50,607.51 L695.85,607.50 L696.20,607.50 L696.55,607.46 L696.90,607.20 L697.25,606.94 L697.60,606.68 L697.95,606.42 L698.30,606.38 L698.65,606.50 L699.00,606.63 L699.35,606.75 L699.70,606.88 L700.05,607.43 L700.40,607.28 L700.75,607.13 L701.10,606.99 L701.45,607.02 L701.80,607.30 L702.15,607.58 L702.50,607.86 L702.60,607.94 L702.85,608.15 L703.20,608.11 L703.55,608.02 L703.90,607.93 L704.25,607.84 L704.60,607.67 L704.95,607.30 L705.30,606.92 L705.65,606.54 L706.00,606.17 L706.35,606.06 L706.70,606.06 L707.05,606.07 L707.40,606.07 L707.75,606.07 L708.10,606.04 L708.45,606.02 L708.80,605.99 L709.15,605.96 L709.50,606.09 L709.85,606.33 L710.20,606.58 L710.55,606.82 L710.90,607.06 L711.25,607.48 L711.60,607.90 L711.95,608.32 L712.30,608.73 L712.65,608.88 L713.00,608.66 L713.35,608.44 L713.70,608.22 L713.90,608.10 L714.05,608.00 L714.40,607.66 L714.75,607.29 L715.10,606.92 L715.45,606.55 L715.80,606.26 L716.15,606.16 L716.50,606.06 L716.85,605.96 L717.20,605.86 L717.55,606.03 L717.90,606.31 L718.25,606.59 L718.60,606.87 L718.95,607.10 L719.30,607.10 L719.65,607.10 L720.00,607.09 L720.35,607.09 L720.70,606.57 L721.05,605.67 L721.40,604.77 L721.75,603.87 L722.10,602.97 L722.45,603.18 L722.80,603.39 L723.15,603.59 L723.50,603.80 L723.85,604.00 L724.20,604.18 L724.55,604.37 L724.90,604.56 L725.20,604.72 L725.25,604.74 L725.60,604.88 L725.95,605.00 L726.30,605.11 L726.65,605.23 L727.00,605.47 L727.35,606.03 L727.70,606.58 L728.05,607.13 L728.40,607.68 L728.75,606.73 L729.10,605.17 L729.45,603.61 L729.80,602.05 L730.15,600.84 L730.50,601.79 L730.85,602.74 L731.20,603.68 L731.55,604.62 L731.90,604.76 L732.25,604.29 L732.60,603.82 L732.95,603.35 L733.30,602.87 L733.65,603.12 L734.00,603.37 L734.20,603.51 L734.35,603.62 L734.70,603.85 L735.05,603.78 L735.40,603.30 L735.75,602.81 L736.10,602.32 L736.45,601.82 L736.80,601.89 L737.15,602.04 L737.50,602.19 L737.85,602.34 L738.20,602.53 L738.55,602.80 L738.90,603.08 L739.25,603.35 L739.60,603.63 L739.95,603.26 L740.00,603.17 L740.30,602.64 L740.65,602.02 L741.00,601.40 L741.35,600.84 L741.70,600.69 L742.05,600.54 L742.40,600.39 L742.75,600.23 L743.10,600.05 L743.45,599.84 L743.80,599.63 L744.15,599.42 L744.50,599.21 L744.85,598.60 L745.20,597.99 L745.55,597.38 L745.90,596.77 L746.25,596.55 L746.60,596.83 L746.95,597.12 L747.00,597.16 L747.30,597.41 L747.65,597.70 L748.00,597.33 L748.35,596.86 L748.70,596.39 L749.05,595.92 L749.40,595.46 L749.75,595.04 L750.10,594.62 L750.45,594.20 L750.80,593.77 L751.15,593.70 L751.50,593.78 L751.85,593.85 L752.20,593.92 L752.55,593.93 L752.90,593.62 L753.00,593.53 L753.25,593.31 L753.60,593.00 L753.95,592.69 L754.30,592.62 L754.65,592.74 L755.00,592.85 L755.35,592.96 L755.70,593.06 L756.05,592.50 L756.40,591.94 L756.75,591.36 L757.10,590.78 L757.45,590.25 L757.80,589.77 L758.15,589.29 L758.50,588.79 L758.85,588.29 L759.20,588.57 L759.55,588.97 L759.90,589.36 L760.25,589.73 L760.60,589.84 L760.80,589.53 L760.95,589.29 L761.30,588.70 L761.65,588.09 L762.00,587.46 L762.35,587.01 L762.70,586.61 L763.05,586.19 L763.40,585.76 L763.75,585.27 L764.10,584.46 L764.45,583.64 L764.80,582.81 L765.15,581.98 L765.50,581.13 L765.85,580.27 L766.00,579.90 L766.20,579.40 L766.55,578.51 L766.90,577.60 L767.25,576.82 L767.60,576.02 L767.95,575.20 L768.30,574.37 L768.65,573.60 L769.00,572.92 L769.35,572.24 L769.70,571.55 L770.05,570.86 L770.40,570.52 L770.75,570.24 L771.10,569.97 L771.45,569.71 L771.80,569.25 L772.15,568.25 L772.50,567.27 L772.85,566.31 L773.20,565.38 L773.20,565.38 L773.55,564.26 L773.90,563.07 L774.25,561.89 L774.60,560.72 L774.95,559.71 L775.30,559.69 L775.65,559.67 L776.00,559.65 L776.35,559.65 L776.70,559.05 L777.05,558.01 L777.40,556.97 L777.75,555.93 L778.10,554.90 L778.45,554.98 L778.80,555.06 L779.00,555.11 L779.15,555.14 L779.50,555.19 L779.85,554.75 L780.20,553.67 L780.55,552.59 L780.90,551.51 L781.25,550.44 L781.60,549.82 L781.95,549.30 L782.30,548.83 L782.65,548.41 L783.00,548.20 L783.35,548.45 L783.60,548.68 L783.70,548.78 L784.05,549.15 L784.40,549.53 L784.75,549.51 L785.10,549.34 L785.45,549.18 L785.80,549.03 L786.15,548.81 L786.50,548.15 L786.85,547.49 L787.20,546.84 L787.55,546.17 L787.90,546.35 L788.25,547.16 L788.60,547.96 L788.95,548.74 L789.30,549.51 L789.40,549.62 L789.65,549.89 L790.00,550.24 L790.35,550.57 L790.70,550.88 L791.05,550.36 L791.40,548.74 L791.75,547.10 L792.00,545.92 L792.10,545.43 L792.45,543.62 L792.80,543.90 L793.15,544.47 L793.50,545.04 L793.85,545.67 L794.20,545.80 L794.55,544.56 L794.80,543.83 L794.90,543.57 L795.25,542.82 L795.60,542.26 L795.95,542.56 L796.30,543.22 L796.65,543.92 L797.00,544.59 L797.20,544.94 L797.35,545.20 L797.70,545.87 L798.05,546.57 L798.40,547.30 L798.75,548.05 L799.10,548.48 L799.45,548.66 L799.80,548.84 L800.15,549.03 L800.50,549.20 L800.85,550.84 L801.20,552.47 L801.55,554.06 L801.90,555.62 L802.25,556.58 L802.40,556.65 L802.60,556.73 L802.95,556.85 L803.30,556.94 L803.65,556.99 L804.00,556.89 L804.35,556.75 L804.70,556.61 L805.05,556.46 L805.40,556.49 L805.75,557.00 L806.10,557.52 L806.45,558.06 L806.80,558.64 L807.15,558.79 L807.50,558.80 L807.60,558.81 L807.85,558.90 L808.20,559.18 L808.55,559.59 L808.90,559.97 L809.25,560.38 L809.60,560.74 L809.95,561.00 L810.30,562.27 L810.65,564.20 L810.90,565.41 L811.00,565.86 L811.35,567.43 L811.70,568.99 L812.05,568.06 L812.40,567.13 L812.75,566.18 L813.10,565.23 L813.45,564.91 L813.80,565.42 L814.15,565.93 L814.50,566.45 L814.85,566.98 L815.20,567.30 L815.40,567.47 L815.55,567.60 L815.90,567.91 L816.25,568.25 L816.60,568.64 L816.95,569.13 L817.30,569.62 L817.65,570.13 L818.00,570.65 L818.35,570.11 L818.70,569.15 L819.05,568.19 L819.40,567.23 L819.75,566.51 L820.10,567.27 L820.45,568.02 L820.60,568.34 L820.80,568.77 L821.15,569.50 L821.50,569.83 L821.85,569.85 L822.20,569.87 L822.55,569.89 L822.90,569.90 L823.25,570.47 L823.60,571.05 L823.95,571.63 L824.30,572.22 L824.65,572.50 L825.00,572.37 L825.35,572.26 L825.70,572.16 L825.80,572.14 L826.05,572.10 L826.40,572.36 L826.75,572.71 L827.10,573.10 L827.45,573.53 L827.80,574.13 L828.15,575.12 L828.50,576.14 L828.85,577.17 L829.20,578.22 L829.55,579.08 L829.90,579.86 L830.25,580.65 L830.60,581.44 L830.95,582.12 L831.00,582.12 L831.30,582.17 L831.65,582.31 L832.00,582.50 L832.35,582.75 L832.70,583.23 L833.05,583.89 L833.40,584.55 L833.75,585.20 L834.10,585.83 L834.45,586.87 L834.80,587.85 L835.15,588.77 L835.50,589.61 L835.85,589.84 L836.20,589.26 L836.20,589.26 L836.55,588.62 L836.90,587.94 L837.25,587.24 L837.60,587.90 L837.95,588.78 L838.30,589.64 L838.65,590.49 L839.00,591.02 L839.35,590.79 L839.70,590.55 L840.00,590.35 L840.05,590.32 L840.40,590.08 L840.75,591.02 L841.10,592.43 L841.45,593.84 L841.80,595.24 L842.15,596.37 L842.50,595.88 L842.85,595.39 L843.20,594.91 L843.55,594.46 L843.90,594.25 L844.00,594.24 L844.25,594.24 L844.60,594.28 L844.95,594.37 L845.30,594.49 L845.65,594.74 L846.00,595.01 L846.35,595.31 L846.70,595.62 L847.05,595.63 L847.40,595.22 L847.75,594.81 L848.10,594.40 L848.45,593.98 L848.80,595.30 L849.15,596.91 L849.50,598.48 L849.85,600.02 L850.20,601.28 L850.50,601.80 L850.55,601.88 L850.90,602.46 L851.25,603.02 L851.60,603.57 L851.95,603.24 L852.30,602.55 L852.65,601.85 L853.00,601.15 L853.35,600.64 L853.70,601.34 L854.05,602.03 L854.40,602.72 L854.75,603.41 L855.00,603.77 L855.10,603.82 L855.45,604.01 L855.80,604.20 L856.15,604.40 L856.50,604.59 L856.85,603.92 L857.20,603.25 L857.55,602.58 L857.90,601.89 L858.25,601.96 L858.60,603.03 L858.95,604.09 L859.30,605.14 L859.30,605.14 L859.65,606.17 L860.00,606.55 L860.35,606.82 L860.70,607.09 L861.05,607.35 L861.40,607.45 L861.75,607.13 L862.10,606.81 L862.45,606.49 L862.80,606.16 L863.15,606.05 L863.50,606.03 L863.85,606.00 L864.20,605.97 L864.55,605.99 L864.90,606.37 L865.25,606.75 L865.60,607.12 L865.95,607.49 L866.10,607.64 L866.30,607.17 L866.65,606.34 L867.00,605.52 L867.35,604.69 L867.70,603.86 L868.05,604.51 L868.40,605.15 L868.75,605.80 L869.10,606.44 L869.45,606.97 L869.80,607.36 L870.15,607.25 L870.50,607.64 L870.85,608.02 L871.20,607.37 L871.55,606.54 L871.90,605.72 L872.25,604.89 L872.60,604.54 L872.95,605.40 L873.30,606.25 L873.65,607.10 L874.00,607.96 L874.35,607.84 L874.70,607.34 L875.05,606.83 L875.40,606.32 L875.75,605.80 L876.10,605.20 L876.45,604.60 L876.80,604.00 L877.15,603.39 L877.50,603.56 L877.85,604.31 L878.00,604.63 L878.20,605.06 L878.55,605.81 L878.90,606.55 L879.25,606.24 L879.60,605.93 L879.95,605.63 L880.30,605.32 L880.65,605.35 L881.00,605.84 L881.35,606.33 L881.70,606.83 L882.05,607.32 L882.40,606.92 L882.75,606.38 L883.10,605.84 L883.45,605.29 L883.80,605.14 L884.15,605.98 L884.50,606.82 L884.85,607.66 L885.20,608.49 L885.55,608.26 L885.90,607.61 L886.25,606.95 L886.60,606.30 L886.95,605.79 L887.30,606.21 L887.65,606.62 L888.00,607.04 L888.35,607.45 L888.70,607.43 L889.05,607.09 L889.40,606.74 L889.75,606.39 L890.10,606.05 L890.45,606.15 L890.80,606.26 L891.15,606.37 L891.50,606.47 L891.85,606.77 L892.20,607.34 L892.55,607.91 L892.90,608.47 L893.25,609.04 L893.60,608.81 L893.95,608.45 L894.30,608.09 L894.65,607.73 L895.00,607.40 L895.00,607.40 L895.35,607.17 L895.70,606.95 L896.05,606.72 L896.40,606.49 L896.75,606.20 L897.10,605.88 L897.45,605.56 L897.80,605.25 L898.15,605.10 L898.50,606.00 L898.85,606.89 L899.20,607.79 L899.55,608.69 L899.90,608.98 L900.25,608.82 L900.60,608.66 L900.95,608.50 L901.30,608.35 L901.65,607.95 L902.00,607.56 L902.35,607.16 L902.70,606.77 L903.05,606.64 L903.40,606.85 L903.75,607.06 L904.10,607.27 L904.45,607.48 L904.80,607.11 L905.15,606.63 L905.50,606.16 L905.85,605.69 L906.20,605.35 L906.55,605.36 L906.90,605.36 L907.25,605.37 L907.60,605.37 L907.95,605.42 L908.30,605.50 L908.65,605.57 L909.00,605.64 L909.35,605.76 L909.70,606.20 L910.05,606.64 L910.40,607.07 L910.75,607.51 L911.10,607.69 L911.45,607.67 L911.80,607.65 L912.00,607.63 L912.15,607.62 L912.50,607.60 L912.85,607.20 L913.20,606.79 L913.55,606.38 L913.90,605.97 L914.25,605.95 L914.60,606.47 L914.95,606.98 L915.30,607.49 L915.65,607.99 L916.00,608.04 L916.35,608.00 L916.70,607.96 L917.05,607.92 L917.40,607.81 L917.75,607.53 L918.10,607.24 L918.45,606.95 L918.80,606.66 L919.15,606.76 L919.50,607.02 L919.85,607.28 L920.20,607.55 L920.55,607.69 L920.90,607.14 L921.25,606.60 L921.60,606.05 L921.95,605.51 L922.30,604.85 L922.65,604.12 L923.00,603.39 L923.35,602.66 L923.70,601.94 L924.05,602.89 L924.40,603.84 L924.75,604.79 L925.10,605.75 L925.45,606.22 L925.60,606.14 L925.80,606.03 L926.15,605.85 L926.50,605.66 L926.85,605.47 L927.20,604.74 L927.55,603.92 L927.90,603.10 L928.25,602.27 L928.60,601.79 L928.95,602.16 L929.30,602.53 L929.65,602.90 L930.00,603.27 L930.35,604.08 L930.70,605.08 L931.05,606.07 L931.40,607.07 L931.75,607.73 L932.10,606.33 L932.45,604.94 L932.80,603.55 L933.15,602.16 L933.50,602.02 L933.85,602.82 L934.20,603.62 L934.55,604.42 L934.90,605.22 L935.25,604.77 L935.60,604.32 L935.95,603.87 L936.30,603.42 L936.65,603.47 L937.00,604.21 L937.35,604.94 L937.70,605.68 L938.05,606.42 L938.40,606.74 L938.75,606.99 L939.10,607.24 L939.20,607.31 L939.45,607.49 L939.80,607.65 L940.15,607.57 L940.50,607.50 L940.85,607.43 L941.20,607.35 L941.55,607.27 L941.90,607.19 L942.25,607.11 L942.60,607.02 L942.95,606.83 L943.30,605.95 L943.65,605.07 L944.00,604.19 L944.35,603.31 L944.70,603.10 L945.05,603.40 L945.40,603.70 L945.75,604.00 L946.10,604.30 L946.45,603.73 L946.80,603.16 L947.15,602.60 L947.50,602.03 L947.85,601.94 L948.20,602.48 L948.55,603.01 L948.90,603.55 L949.25,604.10 L949.60,604.84 L949.95,605.63 L950.30,606.41 L950.65,607.19 L951.00,607.30 L951.35,605.71 L951.70,604.12 L952.05,602.53 L952.40,600.94 L952.75,601.35 L953.10,602.55 L953.45,603.76 L953.80,604.96 L954.15,606.02 L954.50,606.24 L954.85,606.45 L955.20,606.66 L955.55,606.88 L955.90,606.68 L956.25,606.17 L956.60,605.66 L956.95,605.15 L957.30,604.64 L957.65,604.68 L958.00,604.72 L958.35,604.76 L958.70,604.81 L959.05,604.85 L959.40,604.88 L959.75,604.92 L960.10,604.96 L960.45,604.99 L960.80,605.46 L961.15,606.00 L961.50,606.54 L961.85,607.09 L962.20,607.25 L962.55,606.48 L962.90,605.70 L963.00,605.48" stroke="#ff1414" stroke-width="1.1" stroke-dasharray="4.9 3.3"/>
<path d="M107.50,511.45 L107.85,512.59 L108.20,513.75 L108.55,514.93 L108.90,516.13 L109.25,517.35 L109.60,518.60 L109.95,519.87 L110.20,520.79 L110.30,521.17 L110.65,522.53 L111.00,523.95 L111.35,525.42 L111.70,526.91 L112.05,528.40 L112.40,529.82 L112.75,531.19 L113.10,532.51 L113.45,533.76 L113.60,534.27 L113.80,534.94 L114.15,536.09 L114.50,537.24 L114.85,538.37 L115.20,539.48 L115.55,540.56 L115.90,541.62 L116.25,542.67 L116.60,543.68 L116.95,544.66 L117.30,545.61 L117.65,546.51 L118.00,547.42 L118.10,547.68 L118.35,548.32 L118.70,549.17 L119.05,549.99 L119.40,550.78 L119.75,551.54 L120.10,552.25 L120.45,552.95 L120.80,553.65 L121.15,554.34 L121.50,555.03 L121.85,555.66 L122.20,556.27 L122.55,556.91 L122.60,557.00 L122.90,557.56 L123.25,558.22 L123.60,558.88 L123.95,559.54 L124.30,560.20 L124.65,560.86 L125.00,561.52 L125.35,562.18 L125.70,562.89 L126.05,563.60 L126.40,564.31 L126.75,565.00 L127.10,565.68 L127.10,565.68 L127.45,566.40 L127.80,567.17 L128.15,567.94 L128.50,568.71 L128.85,569.48 L129.20,570.24 L129.55,570.83 L129.90,571.42 L130.25,572.00 L130.60,572.57 L130.95,573.12 L131.30,573.65 L131.65,574.15 L132.00,574.63 L132.35,575.10 L132.70,575.54 L132.80,575.66 L133.05,575.99 L133.40,576.54 L133.75,577.09 L134.10,577.63 L134.45,578.16 L134.80,578.68 L135.15,579.11 L135.50,579.49 L135.85,579.87 L136.20,580.24 L136.55,580.60 L136.90,580.97 L137.25,581.38 L137.60,581.77 L137.95,582.16 L138.30,582.54 L138.40,582.64 L138.65,582.91 L139.00,583.26 L139.35,583.60 L139.70,583.94 L140.05,584.27 L140.40,584.59 L140.75,584.91 L141.10,585.21 L141.45,585.50 L141.80,585.79 L142.15,586.07 L142.50,586.35 L142.85,586.68 L143.20,587.00 L143.55,587.32 L143.90,587.63 L144.25,587.94 L144.60,588.20 L144.95,588.41 L145.20,588.56 L145.30,588.62 L145.65,588.84 L146.00,589.05 L146.35,589.26 L146.70,589.48 L147.05,589.70 L147.40,589.91 L147.75,590.12 L148.10,590.32 L148.45,590.56 L148.80,590.82 L149.15,591.06 L149.50,591.30 L149.85,591.52 L150.20,591.73 L150.55,591.91 L150.90,592.07 L151.25,592.22 L151.60,592.35 L151.95,592.47 L152.00,592.48 L152.30,592.47 L152.65,592.46 L153.00,592.44 L153.35,592.43 L153.70,592.41 L154.05,592.45 L154.40,592.59 L154.75,592.71 L155.10,592.84 L155.45,592.96 L155.80,593.08 L156.15,593.10 L156.50,593.12 L156.85,593.14 L157.20,593.14 L157.55,593.15 L157.90,593.18 L158.25,593.23 L158.60,593.27 L158.80,593.29 L158.95,593.30 L159.30,593.32 L159.65,593.31 L160.00,593.22 L160.35,593.12 L160.70,593.01 L161.05,592.90 L161.40,592.77 L161.75,592.70 L162.10,592.66 L162.45,592.62 L162.80,592.57 L163.15,592.52 L163.50,592.45 L163.85,592.34 L164.20,592.24 L164.55,592.14 L164.90,592.04 L165.25,591.95 L165.50,591.89 L165.60,591.86 L165.95,591.77 L166.30,591.69 L166.65,591.61 L167.00,591.54 L167.35,591.46 L167.70,591.37 L168.05,591.28 L168.40,591.19 L168.75,591.09 L169.10,591.00 L169.45,590.95 L169.80,590.90 L170.15,590.85 L170.50,590.79 L170.85,590.71 L171.20,590.60 L171.55,590.46 L171.90,590.30 L172.25,590.13 L172.30,590.11 L172.60,589.93 L172.95,589.66 L173.30,589.35 L173.65,588.97 L174.00,588.54 L174.35,588.07 L174.70,587.55 L175.05,587.05 L175.40,586.53 L175.70,586.07 L175.75,585.99 L176.10,585.35 L176.45,584.58 L176.80,583.64 L177.15,582.50 L177.50,581.24 L177.85,579.87 L178.00,579.25 L178.20,578.27 L178.55,576.10 L178.90,573.78 L179.25,571.63 L179.50,570.39 L179.60,569.96 L179.95,568.37 L180.30,566.92 L180.65,565.91 L180.90,565.64 L181.00,565.66 L181.35,566.21 L181.70,567.29 L182.05,568.68 L182.40,570.15 L182.50,570.53 L182.75,571.59 L183.10,573.43 L183.45,575.48 L183.80,577.49 L184.10,579.02 L184.15,579.26 L184.50,581.03 L184.85,582.87 L185.20,584.59 L185.55,586.10 L185.90,587.28 L185.90,587.28 L186.25,588.22 L186.60,588.96 L186.95,589.61 L187.30,590.16 L187.65,590.60 L188.00,590.90 L188.10,590.96 L188.35,591.16 L188.70,591.42 L189.05,591.66 L189.40,591.88 L189.75,592.08 L190.10,592.26 L190.45,592.39 L190.80,592.50 L191.15,592.61 L191.50,592.71 L191.85,592.80 L192.20,592.82 L192.55,592.82 L192.70,592.82 L192.90,592.82 L193.25,592.82 L193.60,592.82 L193.95,592.89 L194.30,593.04 L194.65,593.19 L195.00,593.34 L195.35,593.49 L195.70,593.63 L196.05,593.70 L196.40,593.76 L196.75,593.82 L197.10,593.87 L197.45,593.91 L197.80,593.98 L198.15,594.07 L198.50,594.14 L198.85,594.21 L199.20,594.27 L199.40,594.30 L199.55,594.30 L199.90,594.17 L200.25,594.02 L200.60,593.83 L200.95,593.62 L201.30,593.40 L201.65,593.28 L202.00,593.19 L202.35,593.10 L202.70,593.02 L203.05,592.94 L203.40,592.83 L203.75,592.62 L204.10,592.44 L204.45,592.28 L204.80,592.16 L205.10,592.08 L205.15,592.07 L205.50,592.14 L205.85,592.29 L206.20,592.50 L206.55,592.75 L206.90,593.02 L207.25,593.28 L207.60,593.50 L207.95,593.70 L208.30,593.87 L208.50,593.94 L208.65,593.99 L209.00,594.10 L209.35,594.31 L209.70,594.51 L210.05,594.71 L210.40,594.90 L210.75,595.09 L211.10,595.20 L211.45,595.26 L211.80,595.31 L212.15,595.36 L212.50,595.42 L212.85,595.49 L213.20,595.66 L213.55,595.83 L213.90,596.00 L214.10,596.11 L214.25,596.18 L214.60,596.37 L214.95,596.45 L215.30,596.49 L215.65,596.54 L216.00,596.59 L216.35,596.64 L216.70,596.71 L217.05,596.83 L217.40,596.96 L217.75,597.08 L218.10,597.20 L218.45,597.32 L218.80,597.42 L219.15,597.52 L219.50,597.61 L219.80,597.69 L219.85,597.70 L220.20,597.78 L220.55,597.83 L220.90,597.84 L221.25,597.85 L221.60,597.86 L221.95,597.87 L222.30,597.88 L222.65,597.96 L223.00,598.04 L223.35,598.12 L223.70,598.20 L224.05,598.28 L224.40,598.38 L224.75,598.49 L225.10,598.61 L225.45,598.72 L225.80,598.83 L226.15,598.93 L226.50,598.91 L226.85,598.90 L227.20,598.89 L227.55,598.88 L227.90,598.87 L228.25,598.93 L228.60,599.02 L228.80,599.07 L228.95,599.11 L229.30,599.20 L229.65,599.29 L230.00,599.38 L230.35,599.44 L230.70,599.50 L231.05,599.57 L231.40,599.63 L231.75,599.70 L232.10,599.79 L232.45,599.89 L232.80,599.99 L233.15,600.09 L233.50,600.19 L233.85,600.26 L234.20,600.29 L234.55,600.33 L234.90,600.36 L235.25,600.39 L235.60,600.42 L235.60,600.42 L235.95,600.50 L236.30,600.59 L236.65,600.67 L237.00,600.77 L237.35,600.86 L237.70,600.96 L238.05,601.07 L238.40,601.17 L238.75,601.27 L239.10,601.38 L239.45,601.47 L239.80,601.55 L240.15,601.62 L240.50,601.69 L240.85,601.75 L241.20,601.81 L241.55,601.84 L241.90,601.85 L242.25,601.85 L242.60,601.84 L242.95,601.82 L243.30,601.83 L243.50,601.87 L243.65,601.90 L244.00,601.97 L244.35,602.04 L244.70,602.10 L245.05,602.17 L245.40,602.09 L245.75,601.99 L246.10,601.89 L246.45,601.78 L246.80,601.68 L247.15,601.61 L247.50,601.60 L247.85,601.58 L248.20,601.56 L248.55,601.54 L248.90,601.52 L249.25,601.50 L249.60,601.47 L249.95,601.44 L250.30,601.41 L250.65,601.38 L251.00,601.40 L251.35,601.47 L251.40,601.47 L251.70,601.53 L252.05,601.58 L252.40,601.63 L252.75,601.65 L253.10,601.54 L253.45,601.42 L253.80,601.31 L254.15,601.19 L254.50,601.06 L254.85,600.96 L255.20,600.87 L255.55,600.77 L255.90,600.68 L256.25,600.59 L256.60,600.50 L256.95,600.44 L257.30,600.37 L257.65,600.31 L258.00,600.26 L258.00,600.26 L258.35,600.21 L258.70,600.22 L259.05,600.25 L259.40,600.29 L259.75,600.32 L260.10,600.36 L260.45,600.34 L260.80,600.26 L261.15,600.17 L261.50,600.09 L261.85,600.00 L262.20,599.91 L262.55,599.87 L262.90,599.83 L263.25,599.79 L263.60,599.73 L263.95,599.68 L264.30,599.67 L264.65,599.69 L264.90,599.69 L265.00,599.70 L265.35,599.68 L265.70,599.63 L266.05,599.52 L266.40,599.26 L266.75,598.96 L267.10,598.63 L267.45,598.28 L267.80,597.90 L268.15,597.57 L268.50,597.24 L268.85,596.89 L269.20,596.51 L269.40,596.29 L269.55,596.11 L269.90,595.60 L270.25,594.96 L270.60,594.20 L270.95,593.31 L271.30,592.29 L271.65,591.13 L272.00,589.79 L272.35,588.30 L272.70,586.65 L272.80,586.14 L273.05,584.61 L273.40,581.65 L273.75,577.85 L274.10,573.33 L274.45,568.17 L274.80,562.50 L275.00,559.07 L275.15,556.30 L275.50,548.73 L275.85,539.56 L276.20,528.69 L276.55,516.02 L276.60,514.07 L276.90,499.96 L277.25,478.45 L277.50,460.27 L277.60,451.55 L277.95,414.80 L278.00,410.17 L278.30,379.99 L278.60,363.04 L278.65,363.64 L279.00,390.59 L279.20,409.91 L279.35,422.59 L279.70,452.54 L279.80,459.84 L280.05,475.78 L280.40,494.90 L280.50,499.78 L280.75,511.11 L281.10,525.26 L281.40,536.21 L281.45,537.98 L281.80,550.49 L282.15,561.85 L282.50,570.04 L282.50,570.04 L282.85,575.54 L283.20,580.18 L283.55,584.02 L283.90,586.98 L284.10,588.28 L284.25,589.14 L284.60,590.97 L284.95,592.59 L285.30,593.93 L285.65,595.01 L286.00,595.83 L286.30,596.33 L286.35,596.40 L286.70,596.84 L287.05,597.25 L287.40,597.65 L287.75,598.01 L288.10,598.34 L288.45,598.64 L288.80,598.91 L289.15,599.10 L289.50,599.27 L289.85,599.41 L290.20,599.53 L290.55,599.63 L290.80,599.70 L290.90,599.73 L291.25,599.84 L291.60,599.94 L291.95,600.04 L292.30,600.14 L292.65,600.23 L293.00,600.31 L293.35,600.38 L293.70,600.45 L294.05,600.51 L294.40,600.56 L294.75,600.62 L295.10,600.67 L295.45,600.71 L295.80,600.75 L296.15,600.77 L296.50,600.79 L296.50,600.79 L296.85,600.82 L297.20,600.83 L297.55,600.83 L297.90,600.82 L298.25,600.80 L298.60,600.73 L298.95,600.65 L299.30,600.56 L299.65,600.46 L300.00,600.35 L300.35,600.26 L300.70,600.18 L301.05,600.10 L301.40,600.01 L301.75,599.92 L302.10,599.82 L302.10,599.82 L302.45,599.76 L302.80,599.66 L303.15,599.53 L303.50,599.36 L303.85,599.15 L304.20,598.84 L304.55,598.44 L304.90,598.00 L305.25,597.53 L305.60,597.04 L305.95,596.50 L306.30,595.92 L306.65,595.31 L306.70,595.22 L307.00,594.62 L307.35,593.81 L307.70,592.86 L308.05,591.94 L308.40,590.93 L308.75,589.78 L309.10,588.49 L309.45,587.05 L309.80,585.41 L310.00,584.33 L310.15,583.42 L310.50,580.67 L310.85,577.21 L311.20,573.20 L311.55,568.83 L311.90,564.28 L312.25,559.72 L312.30,559.07 L312.60,554.86 L312.95,549.29 L313.30,543.46 L313.65,537.90 L314.00,533.10 L314.10,531.92 L314.35,528.83 L314.70,524.84 L315.00,523.41 L315.05,523.44 L315.40,524.51 L315.75,526.64 L316.10,529.47 L316.40,532.10 L316.45,532.56 L316.80,537.11 L317.15,543.14 L317.50,549.48 L317.85,554.96 L318.00,556.75 L318.20,558.95 L318.55,562.72 L318.90,565.31 L319.10,565.77 L319.25,565.69 L319.60,565.04 L319.95,563.85 L320.30,562.27 L320.50,561.26 L320.65,560.19 L321.00,555.87 L321.35,550.17 L321.70,544.52 L322.00,540.82 L322.05,540.35 L322.40,537.13 L322.75,534.19 L323.10,531.71 L323.45,529.90 L323.60,529.35 L323.80,528.73 L324.15,527.93 L324.30,527.84 L324.50,528.19 L324.85,529.99 L325.00,531.02 L325.20,533.48 L325.55,540.82 L325.90,547.93 L325.90,547.93 L326.25,553.33 L326.60,558.54 L326.95,563.25 L327.30,567.19 L327.65,570.16 L327.70,570.49 L328.00,572.27 L328.35,574.09 L328.70,575.66 L329.05,577.12 L329.40,578.43 L329.75,579.64 L330.10,580.79 L330.40,581.78 L330.45,581.94 L330.80,583.09 L331.15,584.22 L331.50,585.32 L331.85,586.38 L332.20,587.41 L332.55,588.37 L332.90,589.13 L333.25,589.84 L333.60,590.51 L333.95,591.13 L334.30,591.70 L334.65,592.35 L334.90,592.82 L335.00,593.00 L335.35,593.62 L335.70,594.23 L336.05,594.82 L336.40,595.36 L336.75,595.83 L337.10,596.29 L337.45,596.72 L337.80,597.13 L338.15,597.52 L338.50,597.88 L338.85,598.22 L339.20,598.53 L339.55,598.82 L339.90,599.08 L340.25,599.33 L340.60,599.57 L340.60,599.57 L340.95,599.80 L341.30,600.02 L341.65,600.24 L342.00,600.46 L342.35,600.72 L342.70,600.97 L343.05,601.21 L343.40,601.44 L343.75,601.67 L344.10,601.87 L344.45,602.05 L344.80,602.21 L345.15,602.36 L345.50,602.49 L345.85,602.60 L346.20,602.64 L346.55,602.66 L346.90,602.66 L347.25,602.63 L347.30,602.63 L347.60,602.59 L347.95,602.59 L348.30,602.60 L348.65,602.60 L349.00,602.60 L349.35,602.59 L349.70,602.58 L350.05,602.56 L350.40,602.55 L350.75,602.52 L351.10,602.49 L351.45,602.46 L351.80,602.39 L352.15,602.30 L352.50,602.22 L352.85,602.12 L353.00,602.08 L353.20,602.03 L353.55,601.91 L353.90,601.79 L354.25,601.63 L354.60,601.44 L354.95,601.23 L355.30,600.99 L355.65,600.68 L356.00,600.35 L356.35,599.99 L356.70,599.62 L357.05,599.22 L357.40,598.82 L357.50,598.70 L357.75,598.39 L358.10,597.89 L358.45,597.31 L358.80,596.65 L359.15,595.91 L359.50,595.13 L359.85,594.26 L360.20,593.29 L360.55,592.24 L360.90,591.09 L360.90,591.09 L361.25,589.47 L361.60,587.27 L361.95,584.69 L362.30,581.90 L362.65,579.08 L363.00,576.40 L363.20,575.02 L363.35,573.96 L363.70,571.15 L364.05,568.24 L364.40,565.71 L364.75,564.03 L365.00,563.64 L365.10,563.69 L365.45,564.47 L365.80,565.96 L366.15,567.89 L366.50,569.97 L366.60,570.55 L366.85,572.28 L367.20,575.47 L367.55,579.08 L367.90,582.54 L368.25,585.25 L368.40,586.04 L368.60,586.89 L368.95,588.36 L369.30,589.70 L369.65,590.89 L370.00,591.93 L370.35,592.80 L370.70,593.51 L371.05,594.04 L371.10,594.10 L371.40,594.45 L371.75,594.84 L372.10,595.21 L372.45,595.55 L372.80,595.83 L373.15,596.07 L373.50,596.29 L373.85,596.48 L374.20,596.64 L374.55,596.79 L374.90,596.92 L375.25,597.02 L375.60,597.08 L375.60,597.08 L375.95,597.10 L376.30,597.07 L376.65,596.95 L377.00,596.80 L377.35,596.63 L377.70,596.45 L378.05,596.25 L378.40,596.03 L378.75,595.81 L379.10,595.58 L379.45,595.34 L379.80,595.09 L380.15,594.92 L380.50,594.86 L380.85,594.81 L381.20,594.75 L381.20,594.75 L381.55,594.69 L381.90,594.62 L382.25,594.35 L382.60,594.07 L382.95,593.77 L383.30,593.44 L383.65,593.09 L384.00,592.67 L384.35,592.21 L384.70,591.72 L384.70,591.72 L385.05,591.12 L385.40,590.39 L385.75,589.59 L386.10,588.89 L386.45,588.18 L386.80,587.50 L387.00,587.13 L387.15,586.86 L387.50,586.16 L387.85,585.30 L388.20,584.41 L388.55,583.61 L388.90,582.94 L389.25,582.48 L389.30,582.44 L389.60,582.21 L389.95,581.98 L390.30,581.80 L390.65,581.62 L391.00,581.44 L391.35,581.22 L391.70,581.05 L391.70,581.05 L392.05,580.73 L392.40,580.17 L392.75,579.44 L393.10,578.59 L393.45,577.65 L393.80,576.65 L394.00,576.10 L394.15,575.68 L394.50,574.63 L394.85,573.49 L395.20,572.28 L395.55,571.11 L395.90,569.92 L396.25,568.73 L396.30,568.56 L396.60,567.54 L396.95,566.36 L397.30,565.05 L397.65,563.59 L398.00,562.04 L398.30,560.62 L398.35,560.37 L398.70,558.66 L399.05,556.90 L399.40,555.07 L399.75,552.94 L400.10,550.41 L400.20,549.60 L400.45,547.19 L400.80,542.80 L401.15,537.36 L401.50,531.04 L401.50,531.04 L401.85,522.32 L402.10,515.44 L402.20,512.96 L402.55,504.66 L402.80,497.94 L402.90,494.73 L403.25,481.31 L403.60,467.93 L403.60,467.93 L403.95,454.11 L404.30,446.22 L404.30,446.22 L404.65,456.85 L404.90,469.90 L405.00,475.78 L405.35,502.99 L405.60,515.36 L405.70,517.11 L406.05,521.73 L406.40,524.76 L406.75,527.16 L407.10,529.90 L407.20,530.88 L407.45,533.77 L407.80,538.41 L408.15,542.98 L408.50,546.60 L408.80,548.28 L408.85,548.41 L409.20,549.15 L409.55,549.65 L409.90,550.09 L410.25,550.63 L410.30,550.73 L410.60,551.27 L410.95,551.89 L411.30,552.64 L411.65,553.63 L411.90,554.56 L412.00,555.11 L412.35,558.75 L412.70,563.45 L413.00,566.81 L413.05,567.24 L413.40,570.16 L413.75,572.89 L414.10,575.37 L414.45,577.63 L414.80,579.60 L415.00,580.58 L415.15,581.25 L415.50,582.74 L415.85,584.10 L416.20,585.34 L416.55,586.50 L416.90,587.52 L417.25,588.41 L417.30,588.52 L417.60,589.18 L417.95,589.89 L418.30,590.48 L418.65,591.00 L419.00,591.47 L419.35,591.91 L419.70,592.33 L420.05,592.73 L420.40,593.15 L420.40,593.15 L420.75,593.55 L421.10,593.95 L421.45,594.33 L421.80,594.71 L422.15,595.02 L422.50,595.32 L422.85,595.61 L423.20,595.89 L423.55,596.14 L423.90,596.49 L424.25,596.90 L424.60,597.29 L424.95,597.67 L425.10,597.82 L425.30,598.02 L425.65,598.34 L426.00,598.49 L426.35,598.63 L426.70,598.76 L427.05,598.89 L427.40,599.01 L427.75,599.09 L428.10,599.15 L428.45,599.21 L428.80,599.25 L429.15,599.29 L429.50,599.36 L429.70,599.45 L429.85,599.52 L430.20,599.65 L430.55,599.89 L430.90,600.13 L431.25,600.37 L431.60,600.51 L431.95,600.62 L432.30,600.72 L432.65,600.82 L433.00,600.90 L433.35,600.83 L433.70,600.55 L434.05,600.25 L434.20,600.12 L434.40,599.94 L434.75,599.62 L435.10,599.29 L435.45,599.42 L435.80,599.53 L436.15,599.65 L436.50,599.76 L436.85,599.86 L437.20,599.89 L437.55,599.86 L437.90,599.83 L438.25,599.80 L438.60,599.78 L438.95,599.77 L439.30,599.84 L439.65,599.91 L439.90,599.97 L440.00,600.00 L440.35,600.09 L440.70,600.19 L441.05,600.20 L441.40,600.17 L441.75,600.14 L442.10,600.13 L442.45,600.12 L442.80,600.13 L443.15,600.19 L443.50,600.25 L443.85,600.31 L444.20,600.38 L444.55,600.45 L444.90,600.54 L445.25,600.64 L445.60,600.73 L445.95,600.83 L446.30,600.93 L446.65,601.09 L447.00,601.33 L447.35,601.56 L447.70,601.80 L447.80,601.86 L448.05,602.03 L448.40,602.26 L448.75,602.36 L449.10,602.47 L449.45,602.57 L449.80,602.68 L450.15,602.79 L450.50,602.76 L450.85,602.62 L451.20,602.49 L451.55,602.35 L451.90,602.22 L452.25,602.12 L452.60,602.18 L452.95,602.23 L453.30,602.29 L453.65,602.36 L454.00,602.42 L454.35,602.72 L454.70,603.11 L455.05,603.51 L455.40,603.91 L455.75,604.30 L456.10,604.53 L456.45,604.32 L456.80,604.12 L456.80,604.12 L457.15,603.91 L457.50,603.71 L457.85,603.51 L458.20,603.60 L458.55,603.75 L458.90,603.89 L459.25,604.04 L459.60,604.18 L459.95,604.34 L460.30,604.51 L460.65,604.67 L461.00,604.84 L461.35,605.01 L461.70,605.17 L462.05,605.33 L462.40,605.48 L462.75,605.63 L463.10,605.77 L463.45,605.92 L463.80,606.07 L464.15,606.22 L464.50,606.36 L464.85,606.51 L465.20,606.65 L465.55,606.77 L465.90,606.80 L465.90,606.80 L466.25,606.83 L466.60,606.87 L466.95,606.90 L467.30,606.93 L467.65,606.92 L468.00,606.90 L468.35,606.87 L468.70,606.85 L469.05,606.82 L469.40,606.86 L469.75,607.05 L470.10,607.24 L470.45,607.43 L470.80,607.61 L471.15,607.80 L471.50,607.86 L471.85,607.91 L472.20,607.95 L472.55,607.99 L472.90,608.03 L473.25,608.13 L473.60,608.32 L473.95,608.51 L474.30,608.70 L474.65,608.88 L474.90,609.01 L475.00,609.06 L475.35,608.94 L475.70,608.83 L476.05,608.72 L476.40,608.60 L476.75,608.49 L477.10,608.40 L477.45,608.33 L477.80,608.26 L478.15,608.19 L478.50,608.12 L478.85,608.07 L479.20,608.13 L479.55,608.20 L479.90,608.26 L480.25,608.32 L480.60,608.37 L480.95,608.56 L481.30,608.80 L481.65,609.04 L482.00,609.27 L482.35,609.51 L482.70,609.64 L483.05,609.50 L483.40,609.35 L483.75,609.21 L484.10,609.07 L484.45,608.92 L484.80,608.80 L485.15,608.68 L485.50,608.57 L485.85,608.45 L486.20,608.33 L486.20,608.33 L486.55,608.31 L486.90,608.45 L487.25,608.58 L487.60,608.71 L487.95,608.85 L488.30,608.98 L488.65,609.04 L489.00,609.09 L489.35,609.14 L489.70,609.20 L490.05,609.25 L490.40,609.34 L490.75,609.44 L491.10,609.54 L491.45,609.65 L491.80,609.75 L492.15,609.82 L492.50,609.64 L492.85,609.46 L493.20,609.28 L493.55,609.10 L493.90,608.93 L494.25,608.98 L494.60,609.12 L494.95,609.27 L495.30,609.41 L495.65,609.55 L496.00,609.66 L496.35,609.67 L496.70,609.69 L497.05,609.70 L497.40,609.71 L497.75,609.73 L498.10,609.63 L498.45,609.51 L498.80,609.38 L499.15,609.26 L499.50,609.14 L499.85,609.09 L500.20,609.13 L500.55,609.18 L500.90,609.22 L501.25,609.27 L501.60,609.31 L501.95,609.47 L502.30,609.64 L502.65,609.80 L503.00,609.96 L503.35,610.13 L503.70,610.19 L504.05,610.19 L504.30,610.19 L504.40,610.19 L504.75,610.18 L505.10,610.18 L505.45,610.16 L505.80,610.09 L506.15,610.02 L506.50,609.95 L506.85,609.88 L507.20,609.81 L507.55,609.75 L507.90,609.71 L508.25,609.67 L508.60,609.62 L508.95,609.58 L509.30,609.57 L509.65,609.64 L510.00,609.70 L510.35,609.77 L510.70,609.84 L511.05,609.90 L511.40,609.82 L511.75,609.72 L512.10,609.61 L512.45,609.50 L512.80,609.40 L513.15,609.34 L513.50,609.34 L513.85,609.35 L514.20,609.35 L514.55,609.35 L514.90,609.36 L515.25,609.29 L515.60,609.23 L515.95,609.17 L516.30,609.10 L516.65,609.04 L517.00,609.05 L517.35,609.13 L517.70,609.20 L518.05,609.27 L518.40,609.34 L518.75,609.40 L519.10,609.39 L519.45,609.39 L519.80,609.38 L520.15,609.37 L520.50,609.37 L520.85,609.53 L521.20,609.77 L521.55,610.01 L521.90,610.24 L522.25,610.48 L522.60,610.58 L522.95,610.33 L523.30,610.09 L523.65,609.84 L524.00,609.59 L524.35,609.35 L524.70,609.42 L525.05,609.54 L525.40,609.66 L525.75,609.78 L526.10,609.90 L526.45,609.97 L526.80,609.98 L527.15,609.98 L527.50,609.99 L527.85,609.99 L528.20,609.99 L528.55,609.87 L528.90,609.74 L529.25,609.62 L529.60,609.49 L529.95,609.37 L530.30,609.38 L530.65,609.49 L531.00,609.61 L531.35,609.72 L531.70,609.83 L532.05,609.89 L532.40,609.61 L532.75,609.33 L533.10,609.05 L533.45,608.78 L533.80,608.50 L534.15,608.55 L534.50,608.74 L534.85,608.93 L535.20,609.12 L535.55,609.31 L535.90,609.46 L536.25,609.52 L536.60,609.59 L536.95,609.65 L537.30,609.71 L537.65,609.78 L538.00,609.55 L538.35,609.28 L538.70,609.01 L539.05,608.74 L539.40,608.48 L539.75,608.36 L540.00,608.44 L540.10,608.47 L540.45,608.57 L540.80,608.67 L541.15,608.78 L541.50,608.88 L541.85,609.06 L542.20,609.25 L542.55,609.43 L542.90,609.61 L543.25,609.80 L543.60,609.81 L543.95,609.70 L544.30,609.60 L544.65,609.49 L545.00,609.38 L545.35,609.27 L545.70,609.20 L546.05,609.13 L546.40,609.07 L546.75,609.00 L547.10,608.93 L547.45,608.95 L547.80,609.01 L548.15,609.07 L548.50,609.13 L548.85,609.19 L549.20,609.23 L549.55,609.21 L549.90,609.20 L550.25,609.19 L550.60,609.17 L550.95,609.16 L551.30,609.25 L551.65,609.35 L552.00,609.46 L552.35,609.56 L552.70,609.67 L553.05,609.72 L553.40,609.69 L553.75,609.67 L554.10,609.65 L554.45,609.63 L554.80,609.60 L555.15,609.54 L555.50,609.48 L555.85,609.42 L556.20,609.36 L556.55,609.30 L556.90,609.26 L557.25,609.22 L557.60,609.19 L557.95,609.16 L558.30,609.13 L558.65,609.11 L559.00,609.16 L559.35,609.21 L559.70,609.26 L560.05,609.31 L560.40,609.36 L560.75,609.46 L561.10,609.57 L561.45,609.69 L561.80,609.80 L562.15,609.91 L562.50,609.97 L562.85,609.89 L563.20,609.81 L563.55,609.73 L563.90,609.65 L564.25,609.57 L564.60,609.58 L564.95,609.60 L565.30,609.63 L565.65,609.65 L566.00,609.67 L566.35,609.66 L566.70,609.59 L567.05,609.53 L567.40,609.46 L567.75,609.40 L568.10,609.33 L568.45,609.24 L568.80,609.14 L569.15,609.05 L569.50,608.95 L569.85,608.86 L570.20,608.85 L570.55,608.89 L570.90,608.94 L571.25,608.99 L571.60,609.04 L571.95,609.10 L572.30,609.21 L572.65,609.32 L573.00,609.43 L573.35,609.55 L573.70,609.66 L574.05,609.66 L574.40,609.62 L574.75,609.57 L575.10,609.52 L575.45,609.48 L575.80,609.42 L576.15,609.34 L576.50,609.26 L576.85,609.17 L577.20,609.09 L577.55,609.01 L577.90,608.94 L578.25,608.88 L578.60,608.82 L578.95,608.76 L579.30,608.71 L579.65,608.73 L580.00,608.88 L580.35,609.02 L580.70,609.16 L581.05,609.31 L581.40,609.45 L581.75,609.41 L582.10,609.38 L582.45,609.34 L582.80,609.30 L583.15,609.26 L583.50,609.25 L583.85,609.25 L584.20,609.24 L584.55,609.24 L584.90,609.24 L585.25,609.24 L585.60,609.24 L585.95,609.25 L586.30,609.25 L586.65,609.25 L587.00,609.25 L587.35,609.29 L587.70,609.34 L588.05,609.39 L588.40,609.44 L588.75,609.49 L589.10,609.53 L589.45,609.53 L589.80,609.53 L590.15,609.53 L590.50,609.53 L590.85,609.53 L591.20,609.58 L591.55,609.64 L591.90,609.69 L592.25,609.75 L592.60,609.80 L592.95,609.83 L593.30,609.83 L593.65,609.83 L594.00,609.82 L594.35,609.82 L594.70,609.82 L595.05,609.85 L595.40,609.88 L595.75,609.92 L596.10,609.95 L596.45,609.99 L596.80,609.97 L597.15,609.93 L597.50,609.89 L597.85,609.84 L598.20,609.80 L598.55,609.75 L598.90,609.65 L599.25,609.56 L599.60,609.47 L599.95,609.37 L600.00,609.36 L600.30,609.28 L600.65,609.27 L601.00,609.29 L601.35,609.31 L601.70,609.34 L602.05,609.36 L602.40,609.39 L602.75,609.43 L603.10,609.48 L603.45,609.52 L603.80,609.57 L604.15,609.61 L604.50,609.56 L604.85,609.49 L605.20,609.43 L605.55,609.36 L605.90,609.29 L606.25,609.28 L606.60,609.35 L606.95,609.42 L607.30,609.49 L607.65,609.57 L608.00,609.64 L608.35,609.68 L608.70,609.73 L609.05,609.78 L609.40,609.83 L609.75,609.88 L610.10,609.81 L610.45,609.64 L610.80,609.48 L611.15,609.32 L611.50,609.15 L611.85,609.00 L612.20,608.92 L612.55,608.84 L612.90,608.76 L613.25,608.68 L613.60,608.59 L613.95,608.74 L614.30,608.99 L614.65,609.23 L615.00,609.48 L615.35,609.72 L615.70,609.87 L616.05,609.77 L616.40,609.67 L616.75,609.57 L617.10,609.47 L617.45,609.37 L617.80,609.40 L618.15,609.46 L618.50,609.51 L618.85,609.57 L619.20,609.63 L619.55,609.58 L619.90,609.41 L620.25,609.24 L620.60,609.07 L620.95,608.90 L621.30,608.73 L621.65,608.98 L622.00,609.23 L622.35,609.48 L622.70,609.74 L623.05,609.99 L623.40,610.05 L623.75,609.96 L624.10,609.88 L624.45,609.79 L624.80,609.71 L625.15,609.63 L625.50,609.55 L625.85,609.48 L626.20,609.40 L626.55,609.33 L626.90,609.26 L627.25,609.22 L627.60,609.20 L627.95,609.18 L628.30,609.16 L628.65,609.13 L629.00,609.13 L629.35,609.17 L629.70,609.20 L630.05,609.24 L630.40,609.27 L630.75,609.31 L631.10,609.29 L631.45,609.27 L631.80,609.24 L632.15,609.22 L632.50,609.19 L632.85,609.17 L633.20,609.16 L633.55,609.15 L633.90,609.14 L634.25,609.12 L634.60,609.11 L634.95,609.04 L635.30,608.97 L635.65,608.90 L636.00,608.82 L636.35,608.75 L636.70,608.83 L637.05,609.03 L637.40,609.22 L637.75,609.42 L638.10,609.61 L638.45,609.76 L638.80,609.65 L639.15,609.54 L639.50,609.43 L639.85,609.32 L640.00,609.27 L640.20,609.21 L640.55,609.19 L640.90,609.19 L641.25,609.20 L641.60,609.21 L641.95,609.21 L642.30,609.22 L642.65,609.22 L643.00,609.22 L643.35,609.22 L643.70,609.21 L644.05,609.21 L644.40,609.04 L644.75,608.83 L645.10,608.63 L645.45,608.42 L645.80,608.21 L646.15,608.20 L646.50,608.43 L646.85,608.67 L647.20,608.91 L647.55,609.14 L647.90,609.38 L648.25,609.31 L648.60,609.23 L648.95,609.16 L649.30,609.09 L649.65,609.01 L650.00,608.98 L650.35,608.98 L650.70,608.98 L651.05,608.98 L651.40,608.98 L651.75,608.98 L652.10,609.01 L652.45,609.04 L652.80,609.06 L653.15,609.09 L653.50,609.11 L653.85,609.06 L654.20,608.97 L654.55,608.88 L654.90,608.78 L655.25,608.69 L655.60,608.67 L655.95,608.82 L656.30,608.96 L656.65,609.11 L657.00,609.25 L657.35,609.40 L657.70,609.31 L658.05,609.17 L658.40,609.04 L658.75,608.91 L659.10,608.77 L659.45,608.69 L659.80,608.67 L660.00,608.65 L660.15,608.64 L660.50,608.62 L660.85,608.60 L661.20,608.57 L661.55,608.57 L661.90,608.57 L662.25,608.56 L662.60,608.56 L662.95,608.55 L663.30,608.59 L663.65,608.67 L664.00,608.74 L664.35,608.82 L664.70,608.89 L665.05,608.96 L665.40,608.99 L665.75,609.03 L666.10,609.06 L666.45,609.10 L666.80,609.13 L667.15,609.05 L667.50,608.92 L667.85,608.78 L668.20,608.65 L668.55,608.52 L668.90,608.39 L669.25,608.29 L669.60,608.19 L669.95,608.09 L670.00,608.07 L670.30,607.97 L670.65,607.83 L671.00,607.92 L671.35,608.02 L671.70,608.10 L672.05,608.10 L672.40,608.04 L672.75,607.89 L673.10,607.62 L673.45,607.34 L673.80,607.05 L674.00,606.89 L674.15,606.76 L674.50,606.42 L674.85,606.21 L675.20,605.97 L675.55,605.70 L675.90,605.40 L676.25,605.09 L676.60,604.70 L676.95,604.24 L677.00,604.18 L677.30,603.77 L677.65,603.27 L678.00,602.73 L678.35,602.18 L678.70,601.65 L679.05,601.13 L679.40,600.63 L679.75,600.17 L680.00,599.86 L680.10,599.74 L680.45,599.32 L680.80,598.89 L681.15,598.45 L681.50,598.04 L681.85,597.68 L682.20,597.39 L682.55,597.22 L682.90,597.17 L683.00,597.17 L683.25,597.25 L683.60,597.46 L683.95,597.77 L684.30,598.12 L684.65,598.48 L685.00,598.83 L685.35,599.13 L685.70,599.33 L686.00,599.38 L686.05,599.38 L686.40,599.27 L686.75,599.10 L687.10,598.88 L687.45,598.63 L687.80,598.38 L688.15,598.24 L688.50,598.14 L688.85,598.10 L689.00,598.12 L689.20,598.17 L689.55,598.40 L689.90,598.77 L690.25,599.22 L690.60,599.73 L690.95,600.25 L691.30,600.75 L691.65,601.16 L692.00,601.35 L692.00,601.35 L692.35,601.48 L692.70,601.61 L693.05,601.73 L693.40,601.84 L693.75,601.98 L694.10,602.11 L694.45,602.22 L694.80,602.30 L695.15,602.34 L695.50,602.35 L695.60,602.35 L695.85,602.33 L696.20,602.24 L696.55,602.09 L696.90,601.88 L697.25,601.63 L697.60,601.34 L697.95,601.03 L698.30,600.71 L698.65,600.40 L699.00,600.10 L699.00,600.10 L699.35,599.84 L699.70,599.60 L700.05,599.36 L700.40,599.11 L700.75,598.84 L701.10,598.55 L701.45,598.21 L701.80,597.84 L702.15,597.43 L702.50,596.98 L702.60,596.84 L702.85,596.48 L703.20,595.87 L703.55,595.17 L703.90,594.40 L704.25,593.55 L704.60,592.63 L704.95,591.67 L705.30,590.74 L705.65,589.76 L706.00,588.74 L706.00,588.74 L706.35,587.65 L706.70,586.45 L707.05,585.00 L707.40,583.38 L707.75,581.66 L708.10,579.83 L708.45,577.90 L708.80,575.92 L709.15,573.98 L709.40,572.53 L709.50,571.93 L709.85,569.67 L710.20,567.18 L710.55,564.47 L710.90,561.63 L711.25,558.62 L711.60,555.46 L711.95,552.15 L712.10,550.69 L712.30,548.70 L712.65,544.93 L713.00,540.76 L713.35,536.20 L713.70,531.19 L713.90,528.08 L714.05,525.51 L714.40,518.40 L714.75,510.40 L715.10,502.33 L715.45,495.00 L715.50,494.06 L715.80,488.35 L716.15,481.93 L716.50,476.92 L716.60,475.91 L716.85,473.69 L717.20,471.17 L717.50,470.31 L717.55,470.32 L717.90,471.36 L718.25,473.51 L718.60,476.17 L718.90,478.31 L718.95,478.63 L719.30,481.02 L719.65,483.59 L720.00,486.26 L720.35,488.87 L720.70,491.41 L721.05,493.82 L721.10,494.15 L721.40,496.23 L721.75,498.80 L722.10,501.29 L722.45,503.45 L722.80,504.98 L722.90,505.27 L723.15,505.88 L723.50,506.64 L723.85,507.21 L724.20,507.45 L724.30,507.46 L724.55,505.86 L724.90,499.96 L725.20,493.72 L725.25,492.68 L725.60,483.90 L725.95,472.80 L726.30,459.80 L726.30,459.80 L726.65,442.88 L727.00,422.40 L727.30,404.93 L727.35,402.03 L727.70,377.31 L728.05,357.51 L728.20,354.95 L728.40,358.15 L728.75,374.64 L729.10,395.40 L729.30,404.86 L729.45,410.57 L729.80,423.63 L730.15,435.94 L730.50,447.03 L730.85,456.44 L731.00,459.84 L731.20,463.75 L731.55,469.32 L731.90,474.26 L732.25,479.69 L732.40,482.44 L732.60,486.89 L732.95,496.25 L733.30,505.60 L733.60,511.86 L733.65,512.68 L734.00,518.58 L734.35,523.42 L734.70,525.44 L734.70,525.44 L735.05,524.53 L735.40,522.15 L735.75,518.92 L736.00,516.47 L736.10,515.37 L736.45,509.89 L736.80,503.19 L737.15,496.99 L737.40,493.86 L737.50,492.91 L737.85,489.62 L738.20,486.80 L738.55,484.97 L738.80,484.55 L738.90,484.74 L739.25,487.63 L739.60,492.46 L739.70,493.94 L739.95,498.94 L740.30,508.49 L740.60,516.31 L740.65,517.43 L741.00,525.11 L741.35,532.41 L741.70,538.90 L741.70,538.90 L742.05,544.76 L742.40,550.27 L742.75,555.27 L743.10,559.63 L743.30,561.76 L743.45,563.22 L743.80,566.46 L744.15,569.43 L744.50,572.12 L744.85,574.48 L745.20,576.73 L745.50,578.03 L745.55,578.23 L745.90,579.55 L746.25,580.77 L746.60,581.91 L746.95,583.12 L747.30,584.30 L747.65,585.37 L748.00,586.34 L748.35,587.20 L748.70,587.92 L748.90,588.23 L749.05,588.46 L749.40,588.96 L749.75,589.44 L750.10,589.89 L750.45,590.30 L750.80,590.68 L751.15,591.02 L751.50,591.30 L751.85,591.51 L752.20,591.66 L752.30,591.69 L752.55,591.72 L752.90,591.74 L753.25,591.76 L753.60,591.77 L753.95,591.77 L754.30,591.77 L754.65,591.64 L755.00,591.51 L755.35,591.37 L755.70,591.23 L756.05,591.08 L756.40,591.08 L756.75,591.19 L757.10,591.30 L757.45,591.40 L757.80,591.50 L758.00,591.55 L758.15,591.58 L758.50,591.57 L758.85,591.55 L759.20,591.54 L759.55,591.52 L759.90,591.50 L760.25,591.41 L760.60,591.30 L760.95,591.18 L761.30,591.07 L761.65,590.95 L762.00,590.88 L762.35,590.94 L762.70,591.00 L763.05,591.06 L763.40,591.12 L763.75,591.18 L764.10,591.10 L764.45,591.00 L764.70,590.92 L764.80,590.89 L765.15,590.76 L765.50,590.59 L765.85,590.41 L766.20,590.22 L766.55,590.00 L766.90,589.75 L767.25,589.49 L767.60,589.21 L767.95,589.11 L768.30,588.99 L768.65,588.87 L769.00,588.73 L769.35,588.60 L769.70,588.36 L770.05,588.05 L770.40,587.74 L770.40,587.74 L770.75,587.42 L771.10,587.08 L771.45,586.70 L771.80,586.28 L772.15,585.84 L772.50,585.39 L772.85,584.92 L773.20,584.43 L773.55,583.97 L773.90,583.50 L774.25,583.03 L774.60,582.56 L774.95,582.09 L775.30,581.64 L775.65,581.23 L776.00,580.83 L776.35,580.45 L776.70,580.07 L777.05,579.71 L777.20,579.56 L777.40,579.35 L777.75,578.99 L778.10,578.63 L778.45,578.26 L778.80,577.90 L779.15,577.54 L779.50,577.17 L779.85,576.80 L780.20,576.44 L780.55,576.08 L780.90,575.73 L781.25,575.40 L781.60,575.09 L781.95,574.78 L782.30,574.47 L782.65,574.17 L783.00,573.84 L783.35,573.49 L783.70,573.15 L784.00,572.87 L784.05,572.82 L784.40,572.49 L784.75,572.17 L785.10,571.94 L785.45,571.71 L785.80,571.49 L786.15,571.26 L786.50,571.04 L786.85,570.78 L787.20,570.52 L787.55,570.26 L787.90,570.00 L788.25,569.75 L788.60,569.51 L788.95,569.26 L789.30,569.01 L789.65,568.78 L790.00,568.56 L790.35,568.35 L790.70,568.09 L790.70,568.09 L791.05,567.82 L791.40,567.55 L791.75,567.28 L792.10,567.01 L792.45,566.78 L792.80,566.61 L793.15,566.45 L793.50,566.31 L793.85,566.18 L794.20,566.08 L794.55,566.09 L794.90,566.12 L795.25,566.18 L795.30,566.20 L795.60,566.28 L795.95,566.39 L796.30,566.45 L796.65,566.46 L797.00,566.49 L797.35,566.53 L797.70,566.59 L798.05,566.67 L798.40,566.81 L798.75,566.96 L799.10,567.12 L799.45,567.29 L799.80,567.46 L800.15,567.48 L800.50,567.44 L800.85,567.41 L800.90,567.40 L801.20,567.38 L801.55,567.38 L801.90,567.47 L802.25,567.71 L802.60,567.97 L802.95,568.25 L803.30,568.55 L803.65,568.86 L804.00,569.41 L804.35,570.01 L804.70,570.62 L805.05,571.22 L805.40,571.83 L805.75,572.33 L806.10,572.67 L806.45,573.01 L806.60,573.15 L806.80,573.34 L807.15,573.71 L807.50,574.09 L807.85,574.59 L808.20,575.09 L808.55,575.59 L808.90,576.09 L809.25,576.57 L809.60,576.95 L809.95,577.24 L810.30,577.48 L810.65,577.68 L811.00,577.83 L811.10,577.86 L811.35,577.92 L811.70,578.02 L812.05,578.10 L812.40,578.16 L812.75,578.22 L813.10,578.27 L813.45,578.33 L813.80,578.39 L814.15,578.44 L814.50,578.50 L814.85,578.55 L815.20,578.57 L815.55,578.52 L815.90,578.48 L816.25,578.44 L816.60,578.40 L816.95,578.37 L817.30,578.62 L817.65,578.93 L817.90,579.15 L818.00,579.24 L818.35,579.57 L818.70,579.91 L819.05,580.13 L819.40,580.17 L819.75,580.23 L820.10,580.29 L820.45,580.36 L820.80,580.44 L821.15,580.74 L821.50,581.05 L821.85,581.36 L822.20,581.68 L822.55,582.00 L822.90,582.26 L823.25,582.47 L823.60,582.68 L823.95,582.89 L824.30,583.11 L824.60,583.29 L824.65,583.33 L825.00,583.57 L825.35,583.83 L825.70,584.09 L826.05,584.36 L826.40,584.64 L826.75,584.95 L827.10,585.28 L827.45,585.62 L827.80,585.96 L828.15,586.30 L828.50,586.60 L828.85,586.79 L829.20,586.98 L829.55,587.17 L829.90,587.37 L830.25,587.56 L830.60,587.87 L830.95,588.19 L831.30,588.51 L831.40,588.61 L831.65,588.84 L832.00,589.18 L832.35,589.50 L832.70,589.80 L833.05,590.10 L833.40,590.42 L833.75,590.73 L834.10,591.05 L834.45,591.45 L834.80,591.85 L835.15,592.26 L835.50,592.66 L835.85,593.06 L836.20,593.54 L836.55,594.06 L836.90,594.59 L837.25,595.11 L837.60,595.62 L837.95,596.09 L838.20,596.21 L838.30,596.25 L838.65,596.42 L839.00,596.58 L839.35,596.74 L839.70,596.89 L840.05,597.25 L840.40,597.69 L840.60,597.93 L840.75,598.11 L841.10,598.53 L841.45,598.95 L841.80,599.32 L842.15,599.58 L842.50,599.83 L842.85,600.09 L843.20,600.34 L843.55,600.58 L843.90,600.84 L844.25,601.10 L844.60,601.35 L844.95,601.60 L845.30,601.85 L845.65,602.09 L846.00,602.34 L846.35,602.58 L846.70,602.81 L847.05,603.04 L847.40,603.26 L847.40,603.26 L847.75,603.32 L848.10,603.38 L848.45,603.43 L848.80,603.48 L849.15,603.53 L849.50,603.73 L849.85,604.03 L850.20,604.34 L850.55,604.63 L850.90,604.93 L851.25,605.22 L851.60,605.49 L851.95,605.76 L852.30,606.02 L852.65,606.27 L853.00,606.52 L853.35,606.56 L853.70,606.51 L854.05,606.45 L854.20,606.42 L854.40,606.38 L854.75,606.32 L855.10,606.32 L855.45,606.49 L855.80,606.67 L856.15,606.84 L856.50,607.02 L856.85,607.19 L857.20,607.26 L857.55,607.32 L857.90,607.38 L858.25,607.44 L858.60,607.49 L858.95,607.60 L859.30,607.78 L859.65,607.96 L860.00,608.14 L860.35,608.32 L860.70,608.49 L861.05,608.46 L861.40,608.42 L861.75,608.38 L862.10,608.33 L862.45,608.29 L862.80,608.43 L863.15,608.71 L863.50,608.98 L863.85,609.25 L864.20,609.51 L864.40,609.66 L864.55,609.72 L864.90,609.59 L865.25,609.45 L865.60,609.32 L865.95,609.19 L866.30,609.06 L866.65,608.98 L867.00,608.91 L867.35,608.84 L867.70,608.78 L868.05,608.71 L868.40,608.75 L868.75,609.05 L869.10,609.36 L869.45,609.66 L869.80,609.96 L870.15,610.26 L870.50,610.27 L870.85,610.23 L871.20,610.18 L871.55,610.13 L871.90,610.09 L872.25,610.05 L872.60,610.03 L872.95,610.01 L873.30,609.99 L873.65,609.97 L874.00,609.95 L874.35,609.96 L874.70,609.98 L875.05,609.99 L875.40,610.00 L875.75,610.01 L876.10,609.98 L876.45,609.91 L876.80,609.84 L877.15,609.77 L877.50,609.70 L877.85,609.64 L878.00,609.65 L878.20,609.65 L878.55,609.66 L878.90,609.67 L879.25,609.68 L879.60,609.70 L879.95,609.75 L880.30,609.83 L880.65,609.91 L881.00,609.99 L881.35,610.07 L881.70,610.13 L882.05,610.14 L882.40,610.16 L882.75,610.17 L883.10,610.19 L883.45,610.20 L883.80,610.21 L884.15,610.21 L884.50,610.21 L884.85,610.21 L885.20,610.21 L885.55,610.18 L885.90,610.12 L886.25,610.06 L886.60,610.00 L886.95,609.94 L887.30,609.88 L887.65,609.82 L888.00,609.76 L888.35,609.71 L888.70,609.65 L889.05,609.59 L889.40,609.58 L889.75,609.60 L890.10,609.62 L890.45,609.64 L890.80,609.66 L891.15,609.70 L891.50,609.80 L891.85,609.91 L892.20,610.01 L892.55,610.12 L892.90,610.23 L893.25,610.28 L893.60,610.30 L893.95,610.33 L894.30,610.35 L894.65,610.38 L895.00,610.35 L895.35,610.20 L895.70,610.05 L896.05,609.90 L896.40,609.75 L896.75,609.61 L897.10,609.57 L897.45,609.56 L897.80,609.55 L898.15,609.53 L898.50,609.52 L898.85,609.57 L899.20,609.71 L899.55,609.85 L899.90,609.99 L900.25,610.14 L900.60,610.28 L900.95,610.23 L901.30,610.19 L901.65,610.14 L902.00,610.09 L902.35,610.05 L902.70,610.03 L903.05,610.02 L903.40,610.02 L903.75,610.01 L904.10,610.01 L904.45,609.98 L904.80,609.81 L905.15,609.64 L905.50,609.47 L905.85,609.31 L906.20,609.14 L906.55,609.14 L906.90,609.22 L907.25,609.29 L907.60,609.37 L907.95,609.45 L908.30,609.50 L908.65,609.48 L909.00,609.47 L909.35,609.45 L909.70,609.44 L910.05,609.43 L910.40,609.47 L910.75,609.53 L911.10,609.59 L911.45,609.65 L911.80,609.70 L912.15,609.67 L912.50,609.51 L912.85,609.35 L913.20,609.19 L913.55,609.03 L913.90,608.87 L914.25,609.12 L914.60,609.36 L914.95,609.60 L915.30,609.85 L915.65,610.09 L916.00,610.15 L916.35,610.06 L916.70,609.98 L917.05,609.90 L917.40,609.82 L917.75,609.75 L918.10,609.76 L918.45,609.77 L918.80,609.78 L919.15,609.79 L919.50,609.79 L919.85,609.70 L920.00,609.64 L920.20,609.56 L920.55,609.43 L920.90,609.29 L921.25,609.16 L921.60,609.09 L921.95,609.18 L922.30,609.28 L922.65,609.37 L923.00,609.46 L923.35,609.56 L923.70,609.67 L924.05,609.78 L924.40,609.89 L924.75,610.00 L925.10,610.11 L925.45,610.07 L925.80,609.83 L926.15,609.59 L926.50,609.34 L926.85,609.10 L927.20,608.86 L927.55,609.01 L927.90,609.17 L928.25,609.32 L928.60,609.48 L928.95,609.63 L929.30,609.71 L929.65,609.74 L930.00,609.77 L930.35,609.81 L930.70,609.84 L931.05,609.85 L931.40,609.73 L931.75,609.61 L932.10,609.50 L932.45,609.38 L932.80,609.26 L933.15,609.32 L933.50,609.44 L933.85,609.56 L934.20,609.69 L934.55,609.81 L934.90,609.87 L935.25,609.77 L935.60,609.68 L935.95,609.58 L936.30,609.48 L936.65,609.39 L937.00,609.48 L937.35,609.61 L937.70,609.74 L938.05,609.87 L938.40,609.99 L938.75,610.04 L939.10,609.98 L939.45,609.92 L939.80,609.86 L940.15,609.80 L940.50,609.74 L940.85,609.71 L941.20,609.69 L941.55,609.66 L941.90,609.63 L942.25,609.61 L942.60,609.68 L942.95,609.83 L943.30,609.97 L943.65,610.12 L944.00,610.26 L944.35,610.38 L944.70,610.28 L945.05,610.18 L945.40,610.08 L945.75,609.98 L946.10,609.88 L946.45,609.88 L946.80,609.92 L947.15,609.95 L947.50,609.99 L947.85,610.03 L948.20,610.00 L948.55,609.79 L948.90,609.58 L949.25,609.37 L949.60,609.16 L949.95,608.95 L950.30,608.96 L950.65,609.01 L951.00,609.05 L951.35,609.09 L951.70,609.14 L952.05,609.21 L952.40,609.33 L952.75,609.45 L953.10,609.58 L953.45,609.70 L953.80,609.82 L954.15,609.82 L954.50,609.83 L954.85,609.83 L955.20,609.84 L955.55,609.84 L955.90,609.79 L956.25,609.71 L956.60,609.63 L956.95,609.55 L957.30,609.47 L957.65,609.41 L958.00,609.48 L958.35,609.54 L958.70,609.61 L959.05,609.68 L959.40,609.75 L959.75,609.66 L960.10,609.50 L960.45,609.35 L960.80,609.20 L961.15,609.04 L961.50,608.96 L961.85,609.06 L962.20,609.17 L962.55,609.27 L962.90,609.38 L963.00,609.41" stroke="#1c1cff" stroke-width="1.2" stroke-dasharray="5.3 2.1 1.4 2.1"/>
</g>
<g fill="none" stroke="#333333" stroke-width="1.2" stroke-linecap="butt">
<rect x="107.00" y="10.60" width="865.05" height="606.65"/>
<path d="M128.85,617.25v-6.00M128.85,10.60v6.00M150.80,617.25v-6.00M150.80,10.60v6.00M172.75,617.25v-6.00M172.75,10.60v6.00M194.70,617.25v-11.40M194.70,10.60v11.40M216.65,617.25v-6.00M216.65,10.60v6.00M238.60,617.25v-6.00M238.60,10.60v6.00M260.55,617.25v-6.00M260.55,10.60v6.00M282.51,617.25v-6.00M282.51,10.60v6.00M304.46,617.25v-11.40M304.46,10.60v11.40M326.41,617.25v-6.00M326.41,10.60v6.00M348.36,617.25v-6.00M348.36,10.60v6.00M370.31,617.25v-6.00M370.31,10.60v6.00M392.26,617.25v-6.00M392.26,10.60v6.00M414.21,617.25v-11.40M414.21,10.60v11.40M436.17,617.25v-6.00M436.17,10.60v6.00M458.12,617.25v-6.00M458.12,10.60v6.00M480.07,617.25v-6.00M480.07,10.60v6.00M502.02,617.25v-6.00M502.02,10.60v6.00M523.97,617.25v-11.40M523.97,10.60v11.40M545.92,617.25v-6.00M545.92,10.60v6.00M567.87,617.25v-6.00M567.87,10.60v6.00M589.83,617.25v-6.00M589.83,10.60v6.00M611.78,617.25v-6.00M611.78,10.60v6.00M633.73,617.25v-11.40M633.73,10.60v11.40M655.68,617.25v-6.00M655.68,10.60v6.00M677.63,617.25v-6.00M677.63,10.60v6.00M699.58,617.25v-6.00M699.58,10.60v6.00M721.53,617.25v-6.00M721.53,10.60v6.00M743.49,617.25v-11.40M743.49,10.60v11.40M765.44,617.25v-6.00M765.44,10.60v6.00M787.39,617.25v-6.00M787.39,10.60v6.00M809.34,617.25v-6.00M809.34,10.60v6.00M831.29,617.25v-6.00M831.29,10.60v6.00M853.24,617.25v-11.40M853.24,10.60v11.40M875.19,617.25v-6.00M875.19,10.60v6.00M897.15,617.25v-6.00M897.15,10.60v6.00M919.10,617.25v-6.00M919.10,10.60v6.00M941.05,617.25v-6.00M941.05,10.60v6.00M963.00,617.25v-11.40M963.00,10.60v11.40M107.00,611.60h12.00M972.05,611.60h-12.00M107.00,583.00h6.00M972.05,583.00h-6.00M107.00,554.39h12.00M972.05,554.39h-12.00M107.00,525.79h6.00M972.05,525.79h-6.00M107.00,497.18h12.00M972.05,497.18h-12.00M107.00,468.58h6.00M972.05,468.58h-6.00M107.00,439.97h12.00M972.05,439.97h-12.00M107.00,411.37h6.00M972.05,411.37h-6.00M107.00,382.76h12.00M972.05,382.76h-12.00M107.00,354.16h6.00M972.05,354.16h-6.00M107.00,325.55h12.00M972.05,325.55h-12.00M107.00,296.94h6.00M972.05,296.94h-6.00M107.00,268.34h12.00M972.05,268.34h-12.00M107.00,239.74h6.00M972.05,239.74h-6.00M107.00,211.13h12.00M972.05,211.13h-12.00M107.00,182.53h6.00M972.05,182.53h-6.00M107.00,153.92h12.00M972.05,153.92h-12.00M107.00,125.31h6.00M972.05,125.31h-6.00M107.00,96.71h12.00M972.05,96.71h-12.00M107.00,68.11h6.00M972.05,68.11h-6.00M107.00,39.50h12.00M972.05,39.50h-12.00"/>
</g>
<g fill="none">
<path d="M213,87.5H275.8" stroke="#0a0a0a" stroke-width="1.15"/>
<path d="M213,121.4H275.8" stroke="#ff1a1a" stroke-width="1.25" stroke-dasharray="4.9 3.3"/>
<path d="M213,155H275.8" stroke="#3a3aff" stroke-width="1.6" stroke-dasharray="5.3 2.1 1.4 2.1"/>
</g>
<g>
<text transform="translate(94.90,620.50) scale(0.948,1)" font-size="30.6" text-anchor="end" letter-spacing="-1.05">0,0</text>
<text transform="translate(94.90,563.29) scale(0.948,1)" font-size="30.6" text-anchor="end" letter-spacing="-1.05">0,5</text>
<text transform="translate(94.90,506.08) scale(0.948,1)" font-size="30.6" text-anchor="end" letter-spacing="-1.05">1,0</text>
<text transform="translate(94.90,448.87) scale(0.948,1)" font-size="30.6" text-anchor="end" letter-spacing="-1.05">1,5</text>
<text transform="translate(94.90,391.66) scale(0.948,1)" font-size="30.6" text-anchor="end" letter-spacing="-1.05">2,0</text>
<text transform="translate(94.90,334.45) scale(0.948,1)" font-size="30.6" text-anchor="end" letter-spacing="-1.05">2,5</text>
<text transform="translate(94.90,277.24) scale(0.948,1)" font-size="30.6" text-anchor="end" letter-spacing="-1.05">3,0</text>
<text transform="translate(94.90,220.03) scale(0.948,1)" font-size="30.6" text-anchor="end" letter-spacing="-1.05">3,5</text>
<text transform="translate(94.90,162.82) scale(0.948,1)" font-size="30.6" text-anchor="end" letter-spacing="-1.05">4,0</text>
<text transform="translate(94.90,105.61) scale(0.948,1)" font-size="30.6" text-anchor="end" letter-spacing="-1.05">4,5</text>
<text transform="translate(94.90,48.40) scale(0.948,1)" font-size="30.6" text-anchor="end" letter-spacing="-1.05">5,0</text>
<text transform="translate(195.60,651.90) scale(0.948,1)" font-size="30.6" text-anchor="middle" letter-spacing="-1.05">500</text>
<text transform="translate(305.36,651.90) scale(0.948,1)" font-size="30.6" text-anchor="middle" letter-spacing="-1.05">1000</text>
<text transform="translate(415.11,651.90) scale(0.948,1)" font-size="30.6" text-anchor="middle" letter-spacing="-1.05">1500</text>
<text transform="translate(524.87,651.90) scale(0.948,1)" font-size="30.6" text-anchor="middle" letter-spacing="-1.05">2000</text>
<text transform="translate(634.63,651.90) scale(0.948,1)" font-size="30.6" text-anchor="middle" letter-spacing="-1.05">2500</text>
<text transform="translate(744.39,651.90) scale(0.948,1)" font-size="30.6" text-anchor="middle" letter-spacing="-1.05">3000</text>
<text transform="translate(854.14,651.90) scale(0.948,1)" font-size="30.6" text-anchor="middle" letter-spacing="-1.05">3500</text>
<text transform="translate(963.90,651.90) scale(0.948,1)" font-size="30.6" text-anchor="middle" letter-spacing="-1.05">4000</text>
<text transform="translate(427.60,691.70) scale(0.915,1)" font-size="32">Raman Shift (cm<tspan font-size="18" dy="-15.6">-1</tspan><tspan dy="15.6">)</tspan></text>
<text transform="translate(34.00,298.00) rotate(-90) scale(0.915,1)" font-size="33" text-anchor="middle">Intensity (arb. units)</text>
<text transform="translate(214.00,62.80) scale(0.9875,1)" font-size="28" text-anchor="start">elution buffers</text>
<text transform="translate(282.30,96.70) scale(0.943,1)" font-size="29.0" text-anchor="start">DNeasy</text>
<text transform="translate(282.30,130.60) scale(0.943,1)" font-size="29.0" text-anchor="start">ChargeSwitch</text>
<text transform="translate(282.30,163.90) scale(0.943,1)" font-size="29.0" text-anchor="start">Phe-Cl</text>
</g>
</svg>
</body>
</html>
